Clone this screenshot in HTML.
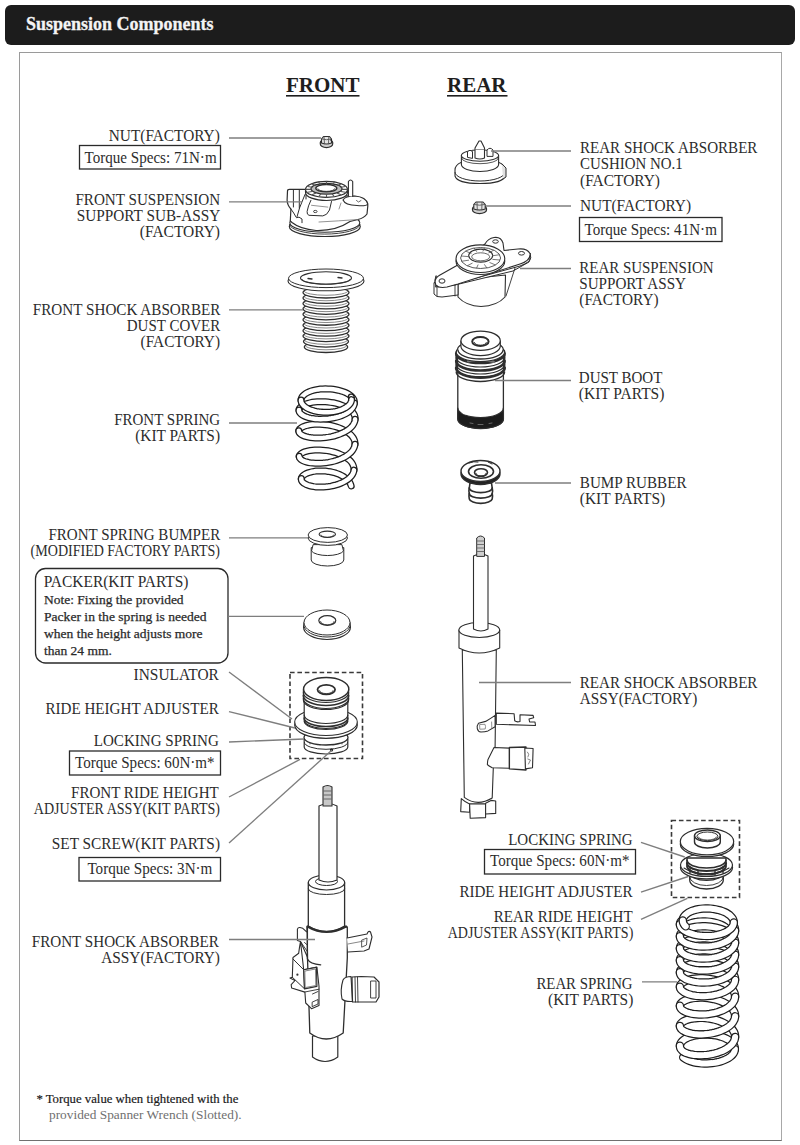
<!DOCTYPE html>
<html><head><meta charset="utf-8">
<style>
html,body{margin:0;padding:0;background:#fff;width:800px;height:1145px;overflow:hidden}
#hdr{position:absolute;left:5px;top:5px;width:790px;height:40px;background:#1c1c1c;border-radius:6px}
#hdr span{position:absolute;left:21px;top:8.3px;font:bold 18px/22px "Liberation Serif",serif;color:#f4f4f4;-webkit-text-stroke:0.3px #f4f4f4}
#frame{position:absolute;left:19px;top:52px;width:761px;height:1087px;border:1px solid #9a9a9a;border-bottom-color:#707070;border-right-color:#a8a8a8}
svg{position:absolute;left:0;top:0}
text{font-family:"Liberation Serif",serif;font-size:15px;fill:#2c2c2c}
.ld{stroke:#7e7e7e;stroke-width:1.35;fill:none}
.bx{fill:none;stroke:#2a2a2a;stroke-width:1.3}
</style></head><body>
<div id="hdr"><span>Suspension Components</span></div>
<div id="frame"></div>
<svg width="800" height="1145" viewBox="0 0 800 1145">
<text x="286" y="91.5" style="font-weight:bold;font-size:21px;fill:#1e1e1e">FRONT</text>
<text x="447" y="91.5" style="font-weight:bold;font-size:21px;fill:#1e1e1e">REAR</text>
<rect x="286" y="95" width="73.5" height="1.6" fill="#1e1e1e"/>
<rect x="447" y="95" width="60.5" height="1.6" fill="#1e1e1e"/>
<text x="219.8" y="141.4" text-anchor="end" textLength="111.0" lengthAdjust="spacingAndGlyphs" style="font-size:16px;">NUT(FACTORY)</text>
<text x="220.2" y="205.0" text-anchor="end" textLength="144.8" lengthAdjust="spacingAndGlyphs" style="font-size:16px;">FRONT SUSPENSION</text>
<text x="220.2" y="221.0" text-anchor="end" textLength="143.4" lengthAdjust="spacingAndGlyphs" style="font-size:16px;">SUPPORT SUB-ASSY</text>
<text x="220.0" y="237.0" text-anchor="end" textLength="80.2" lengthAdjust="spacingAndGlyphs" style="font-size:16px;">(FACTORY)</text>
<text x="220.4" y="314.8" text-anchor="end" textLength="187.6" lengthAdjust="spacingAndGlyphs" style="font-size:16px;">FRONT SHOCK ABSORBER</text>
<text x="220.2" y="330.6" text-anchor="end" textLength="93.4" lengthAdjust="spacingAndGlyphs" style="font-size:16px;">DUST COVER</text>
<text x="220.0" y="347.0" text-anchor="end" textLength="79.4" lengthAdjust="spacingAndGlyphs" style="font-size:16px;">(FACTORY)</text>
<text x="220.2" y="424.8" text-anchor="end" textLength="106.0" lengthAdjust="spacingAndGlyphs" style="font-size:16px;">FRONT SPRING</text>
<text x="220.0" y="441.2" text-anchor="end" textLength="84.8" lengthAdjust="spacingAndGlyphs" style="font-size:16px;">(KIT PARTS)</text>
<text x="220.2" y="539.8" text-anchor="end" textLength="171.8" lengthAdjust="spacingAndGlyphs" style="font-size:16px;">FRONT SPRING BUMPER</text>
<text x="220.0" y="555.8" text-anchor="end" textLength="189.4" lengthAdjust="spacingAndGlyphs" style="font-size:16px;">(MODIFIED FACTORY PARTS)</text>
<text x="218.8" y="679.8" text-anchor="end" textLength="85.2" lengthAdjust="spacingAndGlyphs" style="font-size:16px;">INSULATOR</text>
<text x="218.8" y="714.2" text-anchor="end" textLength="173.4" lengthAdjust="spacingAndGlyphs" style="font-size:16px;">RIDE HEIGHT ADJUSTER</text>
<text x="218.8" y="745.8" text-anchor="end" textLength="125.0" lengthAdjust="spacingAndGlyphs" style="font-size:16px;">LOCKING SPRING</text>
<text x="218.8" y="797.9" text-anchor="end" textLength="147.8" lengthAdjust="spacingAndGlyphs" style="font-size:16px;">FRONT RIDE HEIGHT</text>
<text x="220.0" y="814.4" text-anchor="end" textLength="186.2" lengthAdjust="spacingAndGlyphs" style="font-size:16px;">ADJUSTER ASSY(KIT PARTS)</text>
<text x="220.0" y="848.8" text-anchor="end" textLength="168.2" lengthAdjust="spacingAndGlyphs" style="font-size:16px;">SET SCREW(KIT PARTS)</text>
<text x="218.8" y="947.0" text-anchor="end" textLength="187.0" lengthAdjust="spacingAndGlyphs" style="font-size:16px;">FRONT SHOCK ABSORBER</text>
<text x="220.0" y="963.0" text-anchor="end" textLength="118.8" lengthAdjust="spacingAndGlyphs" style="font-size:16px;">ASSY(FACTORY)</text>
<text x="84.6" y="162.8" textLength="132.0" lengthAdjust="spacingAndGlyphs" style="font-size:16px;">Torque Specs: 71N·m</text>
<text x="75.0" y="767.8" textLength="139.6" lengthAdjust="spacingAndGlyphs" style="font-size:16px;">Torque Specs: 60N·m*</text>
<text x="87.4" y="874.0" textLength="125.0" lengthAdjust="spacingAndGlyphs" style="font-size:16px;">Torque Specs: 3N·m</text>
<text x="584.5" y="234.5" textLength="132.4" lengthAdjust="spacingAndGlyphs" style="font-size:16px;">Torque Specs: 41N·m</text>
<text x="490.0" y="866.3" textLength="139.6" lengthAdjust="spacingAndGlyphs" style="font-size:16px;">Torque Specs: 60N·m*</text>
<text x="43.7" y="586.7" textLength="144.8" lengthAdjust="spacingAndGlyphs" style="font-size:16px;">PACKER(KIT PARTS)</text>
<text x="44.0" y="603.8" textLength="139.6" lengthAdjust="spacingAndGlyphs" style="font-size:13.5px;stroke:#262626;stroke-width:0.25">Note: Fixing the provided</text>
<text x="44.0" y="621.0" textLength="162.6" lengthAdjust="spacingAndGlyphs" style="font-size:13.5px;stroke:#262626;stroke-width:0.25">Packer in the spring is needed</text>
<text x="44.0" y="638.2" textLength="158.6" lengthAdjust="spacingAndGlyphs" style="font-size:13.5px;stroke:#262626;stroke-width:0.25">when the height adjusts more</text>
<text x="44.0" y="655.2" textLength="67.8" lengthAdjust="spacingAndGlyphs" style="font-size:13.5px;stroke:#262626;stroke-width:0.25">than 24 mm.</text>
<text x="580.0" y="153.2" textLength="177.4" lengthAdjust="spacingAndGlyphs" style="font-size:16px;">REAR SHOCK ABSORBER</text>
<text x="580.0" y="169.3" textLength="102.6" lengthAdjust="spacingAndGlyphs" style="font-size:16px;">CUSHION NO.1</text>
<text x="580.0" y="185.5" textLength="80.0" lengthAdjust="spacingAndGlyphs" style="font-size:16px;">(FACTORY)</text>
<text x="580.0" y="211.0" textLength="111.0" lengthAdjust="spacingAndGlyphs" style="font-size:16px;">NUT(FACTORY)</text>
<text x="579.3" y="272.5" textLength="134.2" lengthAdjust="spacingAndGlyphs" style="font-size:16px;">REAR SUSPENSION</text>
<text x="579.3" y="288.5" textLength="106.7" lengthAdjust="spacingAndGlyphs" style="font-size:16px;">SUPPORT ASSY</text>
<text x="579.3" y="304.5" textLength="79.2" lengthAdjust="spacingAndGlyphs" style="font-size:16px;">(FACTORY)</text>
<text x="578.8" y="382.5" textLength="83.6" lengthAdjust="spacingAndGlyphs" style="font-size:16px;">DUST BOOT</text>
<text x="578.8" y="398.5" textLength="85.6" lengthAdjust="spacingAndGlyphs" style="font-size:16px;">(KIT PARTS)</text>
<text x="579.8" y="487.9" textLength="106.7" lengthAdjust="spacingAndGlyphs" style="font-size:16px;">BUMP RUBBER</text>
<text x="579.8" y="503.8" textLength="85.4" lengthAdjust="spacingAndGlyphs" style="font-size:16px;">(KIT PARTS)</text>
<text x="579.8" y="687.5" textLength="177.6" lengthAdjust="spacingAndGlyphs" style="font-size:16px;">REAR SHOCK ABSORBER</text>
<text x="579.8" y="703.5" textLength="117.6" lengthAdjust="spacingAndGlyphs" style="font-size:16px;">ASSY(FACTORY)</text>
<text x="632.6" y="844.8" text-anchor="end" textLength="124.4" lengthAdjust="spacingAndGlyphs" style="font-size:16px;">LOCKING SPRING</text>
<text x="632.6" y="896.5" text-anchor="end" textLength="173.2" lengthAdjust="spacingAndGlyphs" style="font-size:16px;">RIDE HEIGHT ADJUSTER</text>
<text x="632.6" y="921.8" text-anchor="end" textLength="138.8" lengthAdjust="spacingAndGlyphs" style="font-size:16px;">REAR RIDE HEIGHT</text>
<text x="633.3" y="937.8" text-anchor="end" textLength="185.6" lengthAdjust="spacingAndGlyphs" style="font-size:16px;">ADJUSTER ASSY(KIT PARTS)</text>
<text x="632.6" y="988.6" text-anchor="end" textLength="96.2" lengthAdjust="spacingAndGlyphs" style="font-size:16px;">REAR SPRING</text>
<text x="633.3" y="1005.0" text-anchor="end" textLength="85.2" lengthAdjust="spacingAndGlyphs" style="font-size:16px;">(KIT PARTS)</text>
<text x="36.4" y="1102.5" textLength="202.0" lengthAdjust="spacingAndGlyphs" style="font-size:13px;fill:#1a1a1a;stroke:#1a1a1a;stroke-width:0.2">* Torque value when tightened with the</text>
<text x="49.0" y="1119.0" textLength="192.6" lengthAdjust="spacingAndGlyphs" style="font-size:13px;fill:#707070">provided Spanner Wrench (Slotted).</text>

<rect class="bx" x="79.5" y="145.5" width="141" height="23.5"/>
<rect class="bx" x="69.5" y="751" width="151" height="24"/>
<rect class="bx" x="79" y="857.5" width="141.5" height="23.5"/>
<rect class="bx" x="579.5" y="217.5" width="142.5" height="24"/>
<rect class="bx" x="484.5" y="849.5" width="151" height="24.5"/>
<rect x="35.5" y="568.5" width="192.5" height="94.5" rx="10" ry="10" fill="none" stroke="#2a2a2a" stroke-width="1.3"/>

<g id="drawings">
<g id="fnut"><path d="M320.3,144 A6.2,3.6 0 0 0 332.7,144 L332.7,142.5 A6.2,3.2 0 0 0 320.3,142.5 Z" fill="#cfcfcf" stroke="#2e2e2e" stroke-width="1.2" stroke-linejoin="round" stroke-linecap="round" /><path d="M321.5,139 L323.5,136.5 L329.5,136.5 L331.5,139 L331.5,143 Q326.5,145 321.5,143 Z" fill="#e6e6e6" stroke="#2e2e2e" stroke-width="1.1" stroke-linejoin="round" stroke-linecap="round" /><path d="M324,137 L324.5,143.8 M328.8,137 L328.5,143.8 M321.5,139 Q326.5,140.5 331.5,139" fill="none" stroke="#555" stroke-width="0.9" stroke-linejoin="round" stroke-linecap="round" /><circle cx="331.2" cy="140" r="0.9" fill="#222"/></g>
<g id="fsup"><ellipse cx="324.8" cy="226.5" rx="35.5" ry="10" fill="#fff" stroke="#2e2e2e" stroke-width="1.2" /><path d="M289.6,224.5 A35.2,9.6 0 0 0 360.0,224.5" fill="none" stroke="#2e2e2e" stroke-width="0.9" stroke-linejoin="round" stroke-linecap="round" /><ellipse cx="324.8" cy="222.8" rx="35" ry="9.4" fill="#fff" stroke="#2e2e2e" stroke-width="1.1" /><path d="M287.5,191 Q287.5,189.3 289.5,189.3 L306,189.3 L347.5,190 L345,196 Q355,195.5 363,198.5 Q368,201.5 367.8,206 L367,214 Q364,218 358,219.5 L350,221.5 Q336,231 316,230.5 Q300,229 292,222.5 L290.3,221 L290.9,209 Q287.2,205 287.1,200 Z" fill="#fff" stroke="#2e2e2e" stroke-width="1.2" stroke-linejoin="round" stroke-linecap="round" /><path d="M343,200 Q345,196 355,196 Q366,197 367.8,204 Q366,206.5 357,205.5 Q345,205 343,200 Z" fill="#fff" stroke="#2e2e2e" stroke-width="1.1" stroke-linejoin="round" stroke-linecap="round" /><path d="M356.5,200.5 L358.5,202 L361,200.5" fill="none" stroke="#555" stroke-width="0.9" stroke-linejoin="round" stroke-linecap="round" /><path d="M310.9,200.3 Q308,206 307.1,211.5 Q306.8,214.8 309,215.3 L322.8,215.9 Q327,215.5 329.5,210 L331.5,201.5" fill="none" stroke="#2e2e2e" stroke-width="1" stroke-linejoin="round" stroke-linecap="round" /><path d="M311.5,205.3 L327.8,207.1" fill="none" stroke="#888" stroke-width="0.9" stroke-linejoin="round" stroke-linecap="round" /><ellipse cx="315.3" cy="211.5" rx="1.8" ry="1.1" fill="none" stroke="#444" stroke-width="1" /><path d="M293.4,190 L293.4,207 M299.3,190 L299.3,208 M305,194.5 L299.6,207.8 L297.1,216.5 M306,189.5 L306,199" fill="none" stroke="#2e2e2e" stroke-width="1" stroke-linejoin="round" stroke-linecap="round" /><path d="M290.9,209 Q294,213 296,217 M296.5,217.5 Q299,216 302,219 L302,222.7" fill="none" stroke="#2e2e2e" stroke-width="1" stroke-linejoin="round" stroke-linecap="round" /><path d="M319,222 Q338,221 358,219.5" fill="none" stroke="#777" stroke-width="0.8" stroke-linejoin="round" stroke-linecap="round" /><path d="M341,203 L339,209" fill="none" stroke="#777" stroke-width="0.8" stroke-linejoin="round" stroke-linecap="round" /><path d="M348.4,196 L348.4,181.5 Q350.5,178.5 352.7,181.5 L352.7,196.5" fill="#fff" stroke="#2e2e2e" stroke-width="1.1" stroke-linejoin="round" stroke-linecap="round" /><path d="M305.5,192.5 A21,8 0 0 0 347.5,192.5" fill="#fff" stroke="#2e2e2e" stroke-width="1.2" stroke-linejoin="round" stroke-linecap="round" /><path d="M305.5,189.4 L305.5,192.5 M347.5,189.4 L347.5,192.5" fill="none" stroke="#2e2e2e" stroke-width="1.1" stroke-linejoin="round" stroke-linecap="round" /><ellipse cx="326.5" cy="189.4" rx="21" ry="8" fill="#fff" stroke="#2e2e2e" stroke-width="1.2" /><ellipse cx="326.5" cy="188.7" rx="15.5" ry="5.4" fill="#bdbdbd" stroke="#2e2e2e" stroke-width="1.3" /><ellipse cx="326.3" cy="188.2" rx="10.5" ry="3.7" fill="#fff" stroke="#2e2e2e" stroke-width="1.4" /><path d="M317.8,188.8 A8.5,2.6 0 0 0 334.8,188.8" fill="none" stroke="#2e2e2e" stroke-width="0.9" stroke-linejoin="round" stroke-linecap="round" /><path d="M342.0,189.4 L347.0,189.4" fill="none" stroke="#555" stroke-width="1.1" stroke-linejoin="round" stroke-linecap="round" /><path d="M340.8,191.5 L345.4,192.3" fill="none" stroke="#555" stroke-width="1.1" stroke-linejoin="round" stroke-linecap="round" /><path d="M337.5,193.2 L341.0,194.8" fill="none" stroke="#555" stroke-width="1.1" stroke-linejoin="round" stroke-linecap="round" /><path d="M332.4,194.4 L334.3,196.5" fill="none" stroke="#555" stroke-width="1.1" stroke-linejoin="round" stroke-linecap="round" /><path d="M326.5,194.8 L326.5,197.1" fill="none" stroke="#555" stroke-width="1.1" stroke-linejoin="round" stroke-linecap="round" /><path d="M320.6,194.4 L318.7,196.5" fill="none" stroke="#555" stroke-width="1.1" stroke-linejoin="round" stroke-linecap="round" /><path d="M315.5,193.2 L312.0,194.8" fill="none" stroke="#555" stroke-width="1.1" stroke-linejoin="round" stroke-linecap="round" /><path d="M312.2,191.5 L307.6,192.3" fill="none" stroke="#555" stroke-width="1.1" stroke-linejoin="round" stroke-linecap="round" /><path d="M311.0,189.4 L306.0,189.4" fill="none" stroke="#555" stroke-width="1.1" stroke-linejoin="round" stroke-linecap="round" /><path d="M312.2,187.3 L307.6,186.5" fill="none" stroke="#555" stroke-width="1.1" stroke-linejoin="round" stroke-linecap="round" /><path d="M315.5,185.6 L312.0,184.0" fill="none" stroke="#555" stroke-width="1.1" stroke-linejoin="round" stroke-linecap="round" /><path d="M320.6,184.4 L318.7,182.3" fill="none" stroke="#555" stroke-width="1.1" stroke-linejoin="round" stroke-linecap="round" /><path d="M326.5,184.0 L326.5,181.7" fill="none" stroke="#555" stroke-width="1.1" stroke-linejoin="round" stroke-linecap="round" /><path d="M332.4,184.4 L334.3,182.3" fill="none" stroke="#555" stroke-width="1.1" stroke-linejoin="round" stroke-linecap="round" /><path d="M337.5,185.6 L341.0,184.0" fill="none" stroke="#555" stroke-width="1.1" stroke-linejoin="round" stroke-linecap="round" /><path d="M340.8,187.3 L345.4,186.5" fill="none" stroke="#555" stroke-width="1.1" stroke-linejoin="round" stroke-linecap="round" /></g>
<g id="dcov"><ellipse cx="326" cy="347.0" rx="21.7" ry="5.5" fill="#fff" stroke="#2e2e2e" stroke-width="1.3" /><path d="M305.3,345.6 A20.7,4.2 0 0 0 346.7,345.6" fill="none" stroke="#555" stroke-width="0.7" stroke-linejoin="round" stroke-linecap="round" /><ellipse cx="326" cy="341.55" rx="22.5" ry="5.5" fill="#fff" stroke="#2e2e2e" stroke-width="1.3" /><path d="M304.5,340.15000000000003 A21.5,4.2 0 0 0 347.5,340.15000000000003" fill="none" stroke="#555" stroke-width="0.7" stroke-linejoin="round" stroke-linecap="round" /><ellipse cx="326" cy="336.1" rx="23.0" ry="5.5" fill="#fff" stroke="#2e2e2e" stroke-width="1.3" /><path d="M304.0,334.70000000000005 A22.0,4.2 0 0 0 348.0,334.70000000000005" fill="none" stroke="#555" stroke-width="0.7" stroke-linejoin="round" stroke-linecap="round" /><ellipse cx="326" cy="330.65" rx="23.0" ry="5.5" fill="#fff" stroke="#2e2e2e" stroke-width="1.3" /><path d="M304.0,329.25 A22.0,4.2 0 0 0 348.0,329.25" fill="none" stroke="#555" stroke-width="0.7" stroke-linejoin="round" stroke-linecap="round" /><ellipse cx="326" cy="325.2" rx="23.0" ry="5.5" fill="#fff" stroke="#2e2e2e" stroke-width="1.3" /><path d="M304.0,323.8 A22.0,4.2 0 0 0 348.0,323.8" fill="none" stroke="#555" stroke-width="0.7" stroke-linejoin="round" stroke-linecap="round" /><ellipse cx="326" cy="319.75" rx="23.0" ry="5.5" fill="#fff" stroke="#2e2e2e" stroke-width="1.3" /><path d="M304.0,318.35 A22.0,4.2 0 0 0 348.0,318.35" fill="none" stroke="#555" stroke-width="0.7" stroke-linejoin="round" stroke-linecap="round" /><ellipse cx="326" cy="314.3" rx="23.0" ry="5.5" fill="#fff" stroke="#2e2e2e" stroke-width="1.3" /><path d="M304.0,312.90000000000003 A22.0,4.2 0 0 0 348.0,312.90000000000003" fill="none" stroke="#555" stroke-width="0.7" stroke-linejoin="round" stroke-linecap="round" /><ellipse cx="326" cy="308.85" rx="23.0" ry="5.5" fill="#fff" stroke="#2e2e2e" stroke-width="1.3" /><path d="M304.0,307.45000000000005 A22.0,4.2 0 0 0 348.0,307.45000000000005" fill="none" stroke="#555" stroke-width="0.7" stroke-linejoin="round" stroke-linecap="round" /><ellipse cx="326" cy="303.4" rx="23.0" ry="5.5" fill="#fff" stroke="#2e2e2e" stroke-width="1.3" /><path d="M304.0,302.0 A22.0,4.2 0 0 0 348.0,302.0" fill="none" stroke="#555" stroke-width="0.7" stroke-linejoin="round" stroke-linecap="round" /><ellipse cx="326" cy="297.95" rx="23.0" ry="5.5" fill="#fff" stroke="#2e2e2e" stroke-width="1.3" /><path d="M304.0,296.55 A22.0,4.2 0 0 0 348.0,296.55" fill="none" stroke="#555" stroke-width="0.7" stroke-linejoin="round" stroke-linecap="round" /><ellipse cx="326" cy="292.5" rx="23.0" ry="5.5" fill="#fff" stroke="#2e2e2e" stroke-width="1.3" /><path d="M304.0,291.1 A22.0,4.2 0 0 0 348.0,291.1" fill="none" stroke="#555" stroke-width="0.7" stroke-linejoin="round" stroke-linecap="round" /><ellipse cx="326" cy="281" rx="38" ry="9.8" fill="#fff" stroke="#2e2e2e" stroke-width="1.1" /><ellipse cx="326" cy="278.3" rx="37.5" ry="9.3" fill="#fff" stroke="#2e2e2e" stroke-width="1" /><ellipse cx="326" cy="278" rx="25.5" ry="6.2" fill="#fff" stroke="#2e2e2e" stroke-width="1.1" /><path d="M302,279.5 A24,4.6 0 0 0 350,279.5" fill="none" stroke="#333" stroke-width="0.8" stroke-linejoin="round" stroke-linecap="round" /><path d="M308,278.5 L312,279 M338,277.5 L342,278" fill="none" stroke="#2e2e2e" stroke-width="1.3" stroke-linejoin="round" stroke-linecap="round" /></g>
<g id="fspr"><path d="M301.3,478.6 L301.6,477.7 L302.1,476.8 L302.8,475.9 L303.8,475.0 L305.0,474.3 L306.4,473.5 L308.0,472.9 L309.8,472.3 L311.7,471.8 L313.8,471.4 L316.0,471.1 L318.3,470.9 L320.6,470.9 L323.1,470.9 L325.5,471.1 L328.0,471.4 L330.4,471.8 L332.8,472.3 L335.2,472.9 L337.4,473.7 L339.6,474.5 L341.6,475.5 L343.5,476.6 L345.2,477.7 L346.7,479.0 L348.0,480.3 L349.2,481.7 L350.1,483.1 L350.7,484.5 L351.2,486.0" fill="none" stroke="#1e1e1e" stroke-width="7.00" stroke-linecap="round"/>
<path d="M301.3,478.6 L301.6,477.7 L302.1,476.8 L302.8,475.9 L303.8,475.0 L305.0,474.3 L306.4,473.5 L308.0,472.9 L309.8,472.3 L311.7,471.8 L313.8,471.4 L316.0,471.1 L318.3,470.9 L320.6,470.9 L323.1,470.9 L325.5,471.1 L328.0,471.4 L330.4,471.8 L332.8,472.3 L335.2,472.9 L337.4,473.7 L339.6,474.5 L341.6,475.5 L343.5,476.6 L345.2,477.7 L346.7,479.0 L348.0,480.3 L349.2,481.7 L350.1,483.1 L350.7,484.5 L351.2,486.0" fill="none" stroke="#fff" stroke-width="4.50" stroke-linecap="round"/>
<path d="M299.2,456.3 L299.5,455.5 L300.0,454.7 L300.8,453.9 L301.8,453.2 L303.1,452.5 L304.5,451.9 L306.3,451.4 L308.2,450.9 L310.3,450.5 L312.5,450.2 L314.9,450.0 L317.4,450.0 L320.0,450.0 L322.7,450.2 L325.4,450.4 L328.1,450.8 L330.8,451.3 L333.4,452.0 L336.0,452.7 L338.5,453.6 L340.9,454.6 L343.1,455.6 L345.2,456.8 L347.0,458.1 L348.7,459.4 L350.2,460.8 L351.5,462.3 L352.5,463.9 L353.2,465.4 L353.7,467.0 L354.0,468.6 L354.0,470.1" fill="none" stroke="#1e1e1e" stroke-width="7.00" stroke-linecap="round"/>
<path d="M299.2,456.3 L299.5,455.5 L300.0,454.7 L300.8,453.9 L301.8,453.2 L303.1,452.5 L304.5,451.9 L306.3,451.4 L308.2,450.9 L310.3,450.5 L312.5,450.2 L314.9,450.0 L317.4,450.0 L320.0,450.0 L322.7,450.2 L325.4,450.4 L328.1,450.8 L330.8,451.3 L333.4,452.0 L336.0,452.7 L338.5,453.6 L340.9,454.6 L343.1,455.6 L345.2,456.8 L347.0,458.1 L348.7,459.4 L350.2,460.8 L351.5,462.3 L352.5,463.9 L353.2,465.4 L353.7,467.0 L354.0,468.6 L354.0,470.1" fill="none" stroke="#fff" stroke-width="4.50" stroke-linecap="round"/>
<path d="M298.8,430.8 L299.1,430.0 L299.6,429.1 L300.4,428.4 L301.4,427.6 L302.7,426.9 L304.2,426.3 L306.0,425.7 L307.9,425.2 L310.0,424.8 L312.3,424.5 L314.7,424.3 L317.3,424.2 L319.9,424.3 L322.6,424.4 L325.3,424.7 L328.1,425.0 L330.8,425.5 L333.6,426.2 L336.2,426.9 L338.7,427.7 L341.2,428.7 L343.5,429.8 L345.6,430.9 L347.6,432.2 L349.3,433.5 L350.9,434.9 L352.2,436.4 L353.3,437.9 L354.1,439.5 L354.7,441.0 L354.9,442.7 L355.0,444.3" fill="none" stroke="#1e1e1e" stroke-width="7.00" stroke-linecap="round"/>
<path d="M298.8,430.8 L299.1,430.0 L299.6,429.1 L300.4,428.4 L301.4,427.6 L302.7,426.9 L304.2,426.3 L306.0,425.7 L307.9,425.2 L310.0,424.8 L312.3,424.5 L314.7,424.3 L317.3,424.2 L319.9,424.3 L322.6,424.4 L325.3,424.7 L328.1,425.0 L330.8,425.5 L333.6,426.2 L336.2,426.9 L338.7,427.7 L341.2,428.7 L343.5,429.8 L345.6,430.9 L347.6,432.2 L349.3,433.5 L350.9,434.9 L352.2,436.4 L353.3,437.9 L354.1,439.5 L354.7,441.0 L354.9,442.7 L355.0,444.3" fill="none" stroke="#fff" stroke-width="4.50" stroke-linecap="round"/>
<path d="M299.0,410.0 L299.2,409.0 L299.7,408.1 L300.5,407.2 L301.5,406.3 L302.8,405.4 L304.3,404.7 L306.0,403.9 L307.9,403.3 L310.1,402.8 L312.3,402.3 L314.7,402.0 L317.3,401.8 L319.9,401.7 L322.6,401.7 L325.3,401.8 L328.1,402.0 L330.8,402.4 L333.6,402.8 L336.2,403.4 L338.8,404.1 L341.2,405.0 L343.5,405.9 L345.7,406.9 L347.6,408.0 L349.4,409.2 L351.0,410.5 L352.3,411.8 L353.4,413.2 L354.2,414.6 L354.8,416.0 L355.1,417.7 L355.1,419.3" fill="none" stroke="#1e1e1e" stroke-width="7.00" stroke-linecap="round"/>
<path d="M299.0,410.0 L299.2,409.0 L299.7,408.1 L300.5,407.2 L301.5,406.3 L302.8,405.4 L304.3,404.7 L306.0,403.9 L307.9,403.3 L310.1,402.8 L312.3,402.3 L314.7,402.0 L317.3,401.8 L319.9,401.7 L322.6,401.7 L325.3,401.8 L328.1,402.0 L330.8,402.4 L333.6,402.8 L336.2,403.4 L338.8,404.1 L341.2,405.0 L343.5,405.9 L345.7,406.9 L347.6,408.0 L349.4,409.2 L351.0,410.5 L352.3,411.8 L353.4,413.2 L354.2,414.6 L354.8,416.0 L355.1,417.7 L355.1,419.3" fill="none" stroke="#fff" stroke-width="4.50" stroke-linecap="round"/>
<path d="M301.0,400.1 L301.2,398.9 L301.6,397.8 L302.3,396.6 L303.2,395.5 L304.4,394.5 L305.8,393.5 L307.3,392.6 L309.1,391.8 L311.1,391.0 L313.2,390.4 L315.4,389.9 L317.8,389.4 L320.3,389.1 L322.8,388.9 L325.4,388.8 L328.0,388.9 L330.7,389.0 L333.3,389.3 L335.8,389.7 L338.2,390.2 L340.6,390.8 L342.8,391.5 L344.9,392.3 L346.9,393.2 L348.6,394.2 L350.1,395.3 L351.4,396.4 L352.5,397.6 L353.4,398.8 L354.0,400.0 L354.3,401.5 L354.4,403.0" fill="none" stroke="#1e1e1e" stroke-width="7.00" stroke-linecap="round"/>
<path d="M301.0,400.1 L301.2,398.9 L301.6,397.8 L302.3,396.6 L303.2,395.5 L304.4,394.5 L305.8,393.5 L307.3,392.6 L309.1,391.8 L311.1,391.0 L313.2,390.4 L315.4,389.9 L317.8,389.4 L320.3,389.1 L322.8,388.9 L325.4,388.8 L328.0,388.9 L330.7,389.0 L333.3,389.3 L335.8,389.7 L338.2,390.2 L340.6,390.8 L342.8,391.5 L344.9,392.3 L346.9,393.2 L348.6,394.2 L350.1,395.3 L351.4,396.4 L352.5,397.6 L353.4,398.8 L354.0,400.0 L354.3,401.5 L354.4,403.0" fill="none" stroke="#fff" stroke-width="4.50" stroke-linecap="round"/>
<path d="M351.2,397.0 L351.5,398.3 L351.6,399.6" fill="none" stroke="#1e1e1e" stroke-width="7.00" stroke-linecap="round"/>
<path d="M351.2,397.0 L351.5,398.3 L351.6,399.6" fill="none" stroke="#fff" stroke-width="4.50" stroke-linecap="round"/>
<path d="M354.0,470.1 L353.7,471.6 L353.2,473.1 L352.4,474.6 L351.4,476.0 L350.1,477.4 L348.6,478.7 L347.0,480.0 L345.1,481.1 L343.1,482.2 L340.9,483.2 L338.6,484.1 L336.2,484.9 L333.7,485.5 L331.1,486.1 L328.6,486.5 L326.0,486.8 L323.4,487.0 L320.9,487.1 L318.4,487.0 L316.0,486.9 L313.8,486.6 L311.7,486.2 L309.7,485.8 L307.9,485.2 L306.3,484.6 L304.9,483.8 L303.7,483.1 L302.7,482.2 L302.0,481.4 L301.5,480.5 L301.3,479.5 L301.3,478.6" fill="none" stroke="#1e1e1e" stroke-width="7.00" stroke-linecap="round"/>
<path d="M354.0,470.1 L353.7,471.6 L353.2,473.1 L352.4,474.6 L351.4,476.0 L350.1,477.4 L348.6,478.7 L347.0,480.0 L345.1,481.1 L343.1,482.2 L340.9,483.2 L338.6,484.1 L336.2,484.9 L333.7,485.5 L331.1,486.1 L328.6,486.5 L326.0,486.8 L323.4,487.0 L320.9,487.1 L318.4,487.0 L316.0,486.9 L313.8,486.6 L311.7,486.2 L309.7,485.8 L307.9,485.2 L306.3,484.6 L304.9,483.8 L303.7,483.1 L302.7,482.2 L302.0,481.4 L301.5,480.5 L301.3,479.5 L301.3,478.6" fill="none" stroke="#fff" stroke-width="4.50" stroke-linecap="round"/>
<path d="M355.0,444.3 L354.7,445.9 L354.2,447.5 L353.4,449.1 L352.4,450.7 L351.1,452.2 L349.6,453.6 L347.9,455.0 L346.0,456.2 L343.9,457.4 L341.6,458.5 L339.2,459.5 L336.7,460.4 L334.0,461.2 L331.4,461.8 L328.6,462.4 L325.9,462.8 L323.2,463.1 L320.5,463.3 L317.9,463.3 L315.3,463.3 L312.9,463.1 L310.6,462.9 L308.5,462.5 L306.6,462.0 L304.8,461.5 L303.3,460.9 L302.0,460.2 L300.9,459.5 L300.1,458.7 L299.5,458.0 L299.3,457.1 L299.2,456.3" fill="none" stroke="#1e1e1e" stroke-width="7.00" stroke-linecap="round"/>
<path d="M355.0,444.3 L354.7,445.9 L354.2,447.5 L353.4,449.1 L352.4,450.7 L351.1,452.2 L349.6,453.6 L347.9,455.0 L346.0,456.2 L343.9,457.4 L341.6,458.5 L339.2,459.5 L336.7,460.4 L334.0,461.2 L331.4,461.8 L328.6,462.4 L325.9,462.8 L323.2,463.1 L320.5,463.3 L317.9,463.3 L315.3,463.3 L312.9,463.1 L310.6,462.9 L308.5,462.5 L306.6,462.0 L304.8,461.5 L303.3,460.9 L302.0,460.2 L300.9,459.5 L300.1,458.7 L299.5,458.0 L299.3,457.1 L299.2,456.3" fill="none" stroke="#fff" stroke-width="4.50" stroke-linecap="round"/>
<path d="M355.1,419.3 L354.9,420.9 L354.4,422.5 L353.6,424.0 L352.6,425.6 L351.3,427.1 L349.8,428.5 L348.0,429.8 L346.1,431.1 L344.0,432.3 L341.7,433.3 L339.3,434.3 L336.7,435.2 L334.1,436.0 L331.4,436.6 L328.7,437.1 L325.9,437.5 L323.1,437.8 L320.4,438.0 L317.8,438.0 L315.2,437.9 L312.8,437.8 L310.4,437.5 L308.3,437.1 L306.3,436.6 L304.5,436.1 L303.0,435.5 L301.6,434.8 L300.5,434.0 L299.7,433.3 L299.1,432.5 L298.9,431.6 L298.8,430.8" fill="none" stroke="#1e1e1e" stroke-width="7.00" stroke-linecap="round"/>
<path d="M355.1,419.3 L354.9,420.9 L354.4,422.5 L353.6,424.0 L352.6,425.6 L351.3,427.1 L349.8,428.5 L348.0,429.8 L346.1,431.1 L344.0,432.3 L341.7,433.3 L339.3,434.3 L336.7,435.2 L334.1,436.0 L331.4,436.6 L328.7,437.1 L325.9,437.5 L323.1,437.8 L320.4,438.0 L317.8,438.0 L315.2,437.9 L312.8,437.8 L310.4,437.5 L308.3,437.1 L306.3,436.6 L304.5,436.1 L303.0,435.5 L301.6,434.8 L300.5,434.0 L299.7,433.3 L299.1,432.5 L298.9,431.6 L298.8,430.8" fill="none" stroke="#fff" stroke-width="4.50" stroke-linecap="round"/>
<path d="M354.4,403.0 L354.2,404.5 L353.7,405.9 L353.0,407.3 L352.0,408.7 L350.8,410.1 L349.4,411.3 L347.7,412.6 L345.8,413.7 L343.8,414.7 L341.5,415.7 L339.2,416.5 L336.7,417.2 L334.1,417.8 L331.4,418.3 L328.6,418.7 L325.9,419.0 L323.2,419.1 L320.5,419.2 L317.8,419.1 L315.3,418.9 L312.8,418.5 L310.5,418.1 L308.4,417.6 L306.4,417.0 L304.7,416.3 L303.1,415.5 L301.8,414.7 L300.7,413.8 L299.9,412.9 L299.3,412.0 L299.0,411.0 L299.0,410.0" fill="none" stroke="#1e1e1e" stroke-width="7.00" stroke-linecap="round"/>
<path d="M354.4,403.0 L354.2,404.5 L353.7,405.9 L353.0,407.3 L352.0,408.7 L350.8,410.1 L349.4,411.3 L347.7,412.6 L345.8,413.7 L343.8,414.7 L341.5,415.7 L339.2,416.5 L336.7,417.2 L334.1,417.8 L331.4,418.3 L328.6,418.7 L325.9,419.0 L323.2,419.1 L320.5,419.2 L317.8,419.1 L315.3,418.9 L312.8,418.5 L310.5,418.1 L308.4,417.6 L306.4,417.0 L304.7,416.3 L303.1,415.5 L301.8,414.7 L300.7,413.8 L299.9,412.9 L299.3,412.0 L299.0,411.0 L299.0,410.0" fill="none" stroke="#fff" stroke-width="4.50" stroke-linecap="round"/>
<path d="M351.6,399.6 L351.4,400.9 L351.0,402.1 L350.4,403.3 L349.5,404.5 L348.4,405.6 L347.1,406.7 L345.6,407.7 L343.9,408.6 L342.1,409.5 L340.1,410.2 L337.9,410.9 L335.7,411.4 L333.4,411.8 L330.9,412.1 L328.5,412.3 L326.0,412.3 L323.5,412.3 L321.1,412.1 L318.7,411.8 L316.3,411.4 L314.1,410.9 L312.0,410.2 L310.0,409.5 L308.2,408.7 L306.5,407.8 L305.1,406.8 L303.8,405.8 L302.8,404.7 L302.0,403.6 L301.4,402.5 L301.1,401.3 L301.0,400.1" fill="none" stroke="#1e1e1e" stroke-width="7.00" stroke-linecap="round"/>
<path d="M351.6,399.6 L351.4,400.9 L351.0,402.1 L350.4,403.3 L349.5,404.5 L348.4,405.6 L347.1,406.7 L345.6,407.7 L343.9,408.6 L342.1,409.5 L340.1,410.2 L337.9,410.9 L335.7,411.4 L333.4,411.8 L330.9,412.1 L328.5,412.3 L326.0,412.3 L323.5,412.3 L321.1,412.1 L318.7,411.8 L316.3,411.4 L314.1,410.9 L312.0,410.2 L310.0,409.5 L308.2,408.7 L306.5,407.8 L305.1,406.8 L303.8,405.8 L302.8,404.7 L302.0,403.6 L301.4,402.5 L301.1,401.3 L301.0,400.1" fill="none" stroke="#fff" stroke-width="4.50" stroke-linecap="round"/></g>
<g id="fbump"><path d="M311.2,548 L311.2,560 A16.3,6 0 0 0 343.8,560 L343.8,548 Z" fill="#fff" stroke="#2e2e2e" stroke-width="1" stroke-linejoin="round" stroke-linecap="round" /><path d="M313,545 L311.5,551 A16.5,6 0 0 0 343.5,551 L342,545 Z" fill="#fff" stroke="#2e2e2e" stroke-width="1" stroke-linejoin="round" stroke-linecap="round" /><ellipse cx="327.8" cy="538" rx="19.7" ry="7.4" fill="#fff" stroke="#2e2e2e" stroke-width="1" /><ellipse cx="327.8" cy="535" rx="19.7" ry="7.4" fill="#fff" stroke="#2e2e2e" stroke-width="1" /><ellipse cx="327.3" cy="534.3" rx="8.2" ry="3.2" fill="#fff" stroke="#2e2e2e" stroke-width="1.1" /><path d="M320.8,535 A6.5,2.2 0 0 0 333.8,535" fill="none" stroke="#2e2e2e" stroke-width="0.8" stroke-linejoin="round" stroke-linecap="round" /></g>
<g id="packer"><ellipse cx="327" cy="627" rx="23.5" ry="12.5" fill="#fff" stroke="#2e2e2e" stroke-width="1.1" /><ellipse cx="327" cy="624.5" rx="23.3" ry="12.5" fill="#fff" stroke="#2e2e2e" stroke-width="1" /><ellipse cx="327" cy="622.5" rx="23" ry="12.5" fill="#fff" stroke="#2e2e2e" stroke-width="1" /><ellipse cx="327.3" cy="620.5" rx="8.5" ry="4.8" fill="#fff" stroke="#2e2e2e" stroke-width="1.2" /><path d="M320.5,621.5 A6.8,3.3 0 0 0 334.1,621.5" fill="none" stroke="#2e2e2e" stroke-width="0.8" stroke-linejoin="round" stroke-linecap="round" /></g>
<g id="fadj"><path d="M304.2,739 L304.2,747 A21.8,7 0 0 0 347.8,747 L347.8,739 Z" fill="#fff" stroke="#2e2e2e" stroke-width="1.2" stroke-linejoin="round" stroke-linecap="round" /><path d="M304.4,742.5 A21.6,6.8 0 0 0 347.6,742.5" fill="none" stroke="#2e2e2e" stroke-width="1" stroke-linejoin="round" stroke-linecap="round" /><path d="M310,738 L310,744 M320,739 L320,745 M333,739 L333,745 M342,738 L342,744" fill="none" stroke="#444" stroke-width="0.8" stroke-linejoin="round" stroke-linecap="round" /><ellipse cx="326" cy="737.5" rx="22" ry="7.5" fill="#fff" stroke="#2e2e2e" stroke-width="1.3" /><ellipse cx="326" cy="725" rx="31.3" ry="13.3" fill="#fff" stroke="#2e2e2e" stroke-width="1.2" /><ellipse cx="326" cy="722" rx="31.3" ry="13.5" fill="#fff" stroke="#2e2e2e" stroke-width="1.1" /><path d="M304.2,700 L304.2,720 A21.8,8.5 0 0 0 347.8,720 L347.8,700 Z" fill="#fff" stroke="#2e2e2e" stroke-width="1.2" stroke-linejoin="round" stroke-linecap="round" /><path d="M304.2,715 A21.8,8.5 0 0 0 347.8,715" fill="none" stroke="#2e2e2e" stroke-width="1.2" stroke-linejoin="round" stroke-linecap="round" /><path d="M304.2,718 A21.8,8.5 0 0 0 347.8,718" fill="none" stroke="#2e2e2e" stroke-width="1.6" stroke-linejoin="round" stroke-linecap="round" /><path d="M304.2,721 A21.8,8.5 0 0 0 347.8,721" fill="none" stroke="#2e2e2e" stroke-width="1.2" stroke-linejoin="round" stroke-linecap="round" /><path d="M303.4,689 L303.4,700 A22.6,9.5 0 0 0 348.6,700 L348.6,689 Z" fill="#fff" stroke="#2e2e2e" stroke-width="1.2" stroke-linejoin="round" stroke-linecap="round" /><path d="M303.4,692.5 A22.6,10 0 0 0 348.6,692.5" fill="none" stroke="#2e2e2e" stroke-width="1.2" stroke-linejoin="round" stroke-linecap="round" /><path d="M303.4,695.5 A22.6,10 0 0 0 348.6,695.5" fill="none" stroke="#2e2e2e" stroke-width="1.6" stroke-linejoin="round" stroke-linecap="round" /><path d="M303.4,698.5 A22.6,10 0 0 0 348.6,698.5" fill="none" stroke="#2e2e2e" stroke-width="1.2" stroke-linejoin="round" stroke-linecap="round" /><ellipse cx="326.2" cy="689" rx="22.6" ry="11.5" fill="#fff" stroke="#2e2e2e" stroke-width="1.4" /><ellipse cx="326.3" cy="689.6" rx="8.8" ry="4.8" fill="#fff" stroke="#2e2e2e" stroke-width="1.8" /><path d="M319.5,690.6 A6.8,3 0 0 0 333.1,690.6" fill="none" stroke="#2e2e2e" stroke-width="0.8" stroke-linejoin="round" stroke-linecap="round" /><circle cx="331.5" cy="750" r="1.6" fill="#111"/><rect x="290" y="672.5" width="72.5" height="86" fill="none" stroke="#3a3a3a" stroke-width="1.6" stroke-dasharray="4.6 2.8"/></g>
<g id="fshock"><path d="M312.5,1036 L312.5,1057 Q325,1066 337.8,1057 L337.8,1036 Z" fill="#fff" stroke="#2e2e2e" stroke-width="1.2" stroke-linejoin="round" stroke-linecap="round" /><path d="M307,927 L307.5,958 L309.8,1033 Q326,1045 343.2,1033 L347.3,958 L347.3,927 Z" fill="#fff" stroke="#2e2e2e" stroke-width="1.3" stroke-linejoin="round" stroke-linecap="round" /><path d="M347,938 L367,934 Q368.5,930 370.5,932 L372,937 L369,949 L364,951 L348,952" fill="#fff" stroke="#2e2e2e" stroke-width="1.1" stroke-linejoin="round" stroke-linecap="round" /><path d="M362,940 L367,938 L366.5,945 L362,947 Z" fill="none" stroke="#2e2e2e" stroke-width="0.8" stroke-linejoin="round" stroke-linecap="round" /><path d="M348,944 L364,941" fill="none" stroke="#555" stroke-width="0.7" stroke-linejoin="round" stroke-linecap="round" /><path d="M343,980 Q345,976.5 351,976.5 L352.5,1001.5 Q345,1002 342,999 Q340,990 343,980 Z" fill="#fff" stroke="#2e2e2e" stroke-width="1.1" stroke-linejoin="round" stroke-linecap="round" /><path d="M352,977 L361,976.5 L374,977 L379,982 L379,997 L376,1002 L352.5,1002 Z" fill="#fff" stroke="#2e2e2e" stroke-width="1.2" stroke-linejoin="round" stroke-linecap="round" /><path d="M355,977 L355.5,1002 M357.5,977 L358,1002 M371,981 L376,981 L376,998 L371,998 Z" fill="none" stroke="#2e2e2e" stroke-width="0.9" stroke-linejoin="round" stroke-linecap="round" /><path d="M297.4,940.5 L297.4,929.1 Q298,927.3 299.9,927.5 L302.8,928.3 L307.2,932.4 L307.4,957 L300.5,941.5 Z" fill="#fff" stroke="#2e2e2e" stroke-width="1.1" stroke-linejoin="round" stroke-linecap="round" /><path d="M300.5,941.5 L307.3,951.5 M304.5,942.5 L307.3,945" fill="none" stroke="#2e2e2e" stroke-width="0.9" stroke-linejoin="round" stroke-linecap="round" /><path d="M300.5,941.5 L299.5,947.4 L298.7,953.2 L293,957.5 L292.3,977.2 L290,978 L295,980.5 L291.2,984.7 L291.6,988 L304.9,992.1 L305.7,1003 L311.5,1008.7 L319,1005.4 L319,986.3 L316.9,967 L303.7,969.75 Z" fill="#fff" stroke="#2e2e2e" stroke-width="1.1" stroke-linejoin="round" stroke-linecap="round" /><path d="M293,959 L303.7,969.75 L304.5,988.8 L292.3,977.2" fill="none" stroke="#2e2e2e" stroke-width="1" stroke-linejoin="round" stroke-linecap="round" /><path d="M303.7,969.75 L316.5,967.3 L316.9,986.3 L304.5,988.8 Z" fill="#fff" stroke="#2e2e2e" stroke-width="1.2" stroke-linejoin="round" stroke-linecap="round" /><path d="M305.2,971 L315.5,969 L315.8,985.5 L305.6,987.5 Z" fill="none" stroke="#666" stroke-width="0.8" stroke-linejoin="round" stroke-linecap="round" /><path d="M304.9,992 L319,989.2 M312.5,994 L318,991.5 M312.5,1002 L318,999.5 L318,1004 L312.5,1006.5 Z" fill="none" stroke="#2e2e2e" stroke-width="0.9" stroke-linejoin="round" stroke-linecap="round" /><circle cx="297.4" cy="974.7" r="1.1" fill="#333"/><path d="M307.4,927 L307.4,959 Q310,964 320.7,964.8" fill="none" stroke="#2e2e2e" stroke-width="1.3" stroke-linejoin="round" stroke-linecap="round" /><path d="M308.3,883 L308.3,926 Q326.5,937 344.6,926 L344.6,883 Z" fill="#fff" stroke="#2e2e2e" stroke-width="1.3" stroke-linejoin="round" stroke-linecap="round" /><path d="M307.5,926.5 Q326.5,937.5 346,926.5" fill="none" stroke="#2e2e2e" stroke-width="2.2" stroke-linejoin="round" stroke-linecap="round" /><path d="M308.3,889 A18.2,5.5 0 0 0 344.7,889" fill="none" stroke="#2e2e2e" stroke-width="1" stroke-linejoin="round" stroke-linecap="round" /><ellipse cx="326.5" cy="882.5" rx="18.2" ry="7.5" fill="#fff" stroke="#2e2e2e" stroke-width="1.2" /><ellipse cx="326.5" cy="881.5" rx="11" ry="4" fill="#fff" stroke="#2e2e2e" stroke-width="1" /><path d="M319,806 L319,880 Q328,884 337,880 L337,806 Q328,801 319,806 Z" fill="#fff" stroke="#2e2e2e" stroke-width="1.2" stroke-linejoin="round" stroke-linecap="round" /><path d="M323,806 L323,787 Q327.5,784 332,787 L332,806 Z" fill="#c8c8c8" stroke="#2e2e2e" stroke-width="1.1" stroke-linejoin="round" stroke-linecap="round" /><path d="M323.5,791 L331.5,791 M323.5,795 L331.5,795 M323.5,799 L331.5,799" fill="none" stroke="#666" stroke-width="1" stroke-linejoin="round" stroke-linecap="round" /></g>
<g id="rcush"><path d="M455,170 Q455,160 480,159.5 Q505,160 505,170 L505,176 Q503,183.5 480,183.5 Q457,183.5 455,176 Z" fill="#fff" stroke="#2e2e2e" stroke-width="1.1" stroke-linejoin="round" stroke-linecap="round" /><path d="M455,172.5 A25,8.5 0 0 0 505,172.5" fill="none" stroke="#2e2e2e" stroke-width="1" stroke-linejoin="round" stroke-linecap="round" /><path d="M502,164 L506,168 L506,177 L503,179" fill="#e0e0e0" stroke="#2e2e2e" stroke-width="1" stroke-linejoin="round" stroke-linecap="round" /><path d="M461.4,155.5 L461.4,164.5 A18.6,7 0 0 0 498.6,164.5 L498.6,155.5 Z" fill="#fff" stroke="#2e2e2e" stroke-width="1.1" stroke-linejoin="round" stroke-linecap="round" /><ellipse cx="480" cy="155.5" rx="18.6" ry="5.7" fill="#fff" stroke="#2e2e2e" stroke-width="1.1" /><path d="M461.8,158.5 A18.2,5.2 0 0 0 498.2,158.5" fill="none" stroke="#2e2e2e" stroke-width="0.8" stroke-linejoin="round" stroke-linecap="round" /><path d="M467.5,157 L467.5,151.5 Q470,149 472.5,151.5 L472.5,158 Z" fill="#fff" stroke="#2e2e2e" stroke-width="1" stroke-linejoin="round" stroke-linecap="round" /><path d="M487,156 L487,150 Q490,146.5 493,150 L493,156 Z" fill="#fff" stroke="#2e2e2e" stroke-width="1" stroke-linejoin="round" stroke-linecap="round" /><path d="M475,158 L475,148 L479,141 L481,141 L484.5,148 L484.5,158 Q480,160 475,158 Z" fill="#fff" stroke="#2e2e2e" stroke-width="1.1" stroke-linejoin="round" stroke-linecap="round" /><path d="M475.5,149.5 L484,149.5" fill="none" stroke="#666" stroke-width="0.7" stroke-linejoin="round" stroke-linecap="round" /></g>
<g id="rnut"><path d="M472.5,210 A7,3.6 0 0 0 486.5,210 L486.5,208.5 A7,3.2 0 0 0 472.5,208.5 Z" fill="#cfcfcf" stroke="#2e2e2e" stroke-width="1.2" stroke-linejoin="round" stroke-linecap="round" /><path d="M473.8,204.5 L476,202 L483,202 L485.2,204.5 L485.2,209 Q479.5,211 473.8,209 Z" fill="#e6e6e6" stroke="#2e2e2e" stroke-width="1.1" stroke-linejoin="round" stroke-linecap="round" /><path d="M477,202.5 L477.3,209.8 M482,202.5 L481.8,209.8 M473.8,204.5 Q479.5,206 485.2,204.5" fill="none" stroke="#555" stroke-width="0.9" stroke-linejoin="round" stroke-linecap="round" /></g>
<g id="rsup"><path d="M458,280 L458,297 Q466,306 481,306.5 Q497,306 505,297 L505.5,275 Z" fill="#fff" stroke="#2e2e2e" stroke-width="1.1" stroke-linejoin="round" stroke-linecap="round" /><path d="M434,283 L434,294 Q436,297.5 442,297 L458,295 L458,283 Z" fill="#fff" stroke="#2e2e2e" stroke-width="1" stroke-linejoin="round" stroke-linecap="round" /><path d="M436,276 Q433,284 438,287 L455,285 L513,271 L529,262 Q532,258 530,253 L530,259 Q530,262 520,266 L458,283 L436,287 Z" fill="#fff" stroke="#2e2e2e" stroke-width="1" stroke-linejoin="round" stroke-linecap="round" /><path d="M456,266 L440,275 Q433,279 436,285 Q439,288.5 447,287 L458,284 L520,264 Q531,260.5 530,253.5 Q527,248 518,249 L504,250.5 L503,243 Q501,236.5 494,237.5 Q488,238.5 485,244 Z" fill="#fff" stroke="#2e2e2e" stroke-width="1.1" stroke-linejoin="round" stroke-linecap="round" /><path d="M437,286 L437,296 M455,285 L455,296 M515,268 L506,296" fill="none" stroke="#2e2e2e" stroke-width="0.9" stroke-linejoin="round" stroke-linecap="round" /><ellipse cx="442" cy="281" rx="3" ry="2.2" fill="#fff" stroke="#2e2e2e" stroke-width="1" /><ellipse cx="495.5" cy="241.5" rx="2.8" ry="1.7" fill="#fff" stroke="#2e2e2e" stroke-width="1" /><ellipse cx="521.5" cy="253.3" rx="3" ry="1.8" fill="#fff" stroke="#2e2e2e" stroke-width="1" /><ellipse cx="480.4" cy="261" rx="24.4" ry="13.5" fill="#fff" stroke="#2e2e2e" stroke-width="1.1" /><ellipse cx="480.4" cy="258.7" rx="24.4" ry="13.8" fill="#fff" stroke="#2e2e2e" stroke-width="1.1" /><ellipse cx="480.6" cy="258" rx="20" ry="10.5" fill="none" stroke="#444" stroke-width="0.9" /><ellipse cx="480.7" cy="255.6" rx="12" ry="6.5" fill="#fff" stroke="#2e2e2e" stroke-width="1.1" /><ellipse cx="480.7" cy="256.8" rx="9" ry="4" fill="none" stroke="#444" stroke-width="0.8" /><path d="M492.8,259.4 L499.6,260.0" fill="none" stroke="#555" stroke-width="0.8" stroke-linejoin="round" stroke-linecap="round" /><path d="M489.9,262.6 L495.1,264.8" fill="none" stroke="#555" stroke-width="0.8" stroke-linejoin="round" stroke-linecap="round" /><path d="M484.5,264.6 L486.7,267.7" fill="none" stroke="#555" stroke-width="0.8" stroke-linejoin="round" stroke-linecap="round" /><path d="M478.0,264.9 L476.6,268.0" fill="none" stroke="#555" stroke-width="0.8" stroke-linejoin="round" stroke-linecap="round" /><path d="M472.2,263.2 L467.6,265.6" fill="none" stroke="#555" stroke-width="0.8" stroke-linejoin="round" stroke-linecap="round" /><path d="M468.6,260.2 L462.0,261.2" fill="none" stroke="#555" stroke-width="0.8" stroke-linejoin="round" stroke-linecap="round" /><path d="M468.2,256.6 L461.4,256.0" fill="none" stroke="#555" stroke-width="0.8" stroke-linejoin="round" stroke-linecap="round" /><path d="M471.1,253.4 L465.9,251.2" fill="none" stroke="#555" stroke-width="0.8" stroke-linejoin="round" stroke-linecap="round" /><path d="M476.5,251.4 L474.3,248.3" fill="none" stroke="#555" stroke-width="0.8" stroke-linejoin="round" stroke-linecap="round" /><path d="M483.0,251.1 L484.4,248.0" fill="none" stroke="#555" stroke-width="0.8" stroke-linejoin="round" stroke-linecap="round" /><path d="M488.8,252.8 L493.4,250.4" fill="none" stroke="#555" stroke-width="0.8" stroke-linejoin="round" stroke-linecap="round" /><path d="M492.4,255.8 L499.0,254.8" fill="none" stroke="#555" stroke-width="0.8" stroke-linejoin="round" stroke-linecap="round" /></g>
<g id="dboot"><path d="M457.8,372 L457.8,419 A22.8,9.5 0 0 0 503.4,419 L503.4,372 Z" fill="#fff" stroke="#2e2e2e" stroke-width="1.3" stroke-linejoin="round" stroke-linecap="round" /><path d="M457.8,408 A22.8,9.5 0 0 0 503.4,408 L503.4,419 A22.8,9.5 0 0 1 457.8,419 Z" fill="#1c1c1c" stroke="#2e2e2e" stroke-width="1.2" stroke-linejoin="round" stroke-linecap="round" /><path d="M460.5,410 Q464,409 468,413 Q466,416 462,413 Z" fill="#fff" stroke="none" stroke-width="1" stroke-linejoin="round" stroke-linecap="round" /><path d="M470,423 L473,423.5 M478,424.5 L483,424.5 M489,423.5 L492,423" fill="none" stroke="#888" stroke-width="0.7" stroke-linejoin="round" stroke-linecap="round" /><path d="M456.2,352 L456.2,368 A24.2,9.5 0 0 0 504.6,368 L504.6,352 Z" fill="#fff" stroke="#2e2e2e" stroke-width="1.3" stroke-linejoin="round" stroke-linecap="round" /><path d="M456.2,353.5 A24.2,9.5 0 0 0 504.59999999999997,353.5" fill="none" stroke="#2e2e2e" stroke-width="2.6" stroke-linejoin="round" stroke-linecap="round" /><path d="M456.2,357.5 A24.2,9.5 0 0 0 504.59999999999997,357.5" fill="none" stroke="#2e2e2e" stroke-width="1.2" stroke-linejoin="round" stroke-linecap="round" /><path d="M456.2,361 A24.2,9.5 0 0 0 504.59999999999997,361" fill="none" stroke="#2e2e2e" stroke-width="2.6" stroke-linejoin="round" stroke-linecap="round" /><path d="M456.2,364.5 A24.2,9.5 0 0 0 504.59999999999997,364.5" fill="none" stroke="#2e2e2e" stroke-width="1.2" stroke-linejoin="round" stroke-linecap="round" /><path d="M456.2,368 A24.2,9.5 0 0 0 504.59999999999997,368" fill="none" stroke="#2e2e2e" stroke-width="2.8" stroke-linejoin="round" stroke-linecap="round" /><path d="M456.2,372 A24.2,9.5 0 0 0 504.59999999999997,372" fill="none" stroke="#2e2e2e" stroke-width="1.4" stroke-linejoin="round" stroke-linecap="round" /><path d="M457,351 L457,369 M504,351 L504,369" fill="none" stroke="#2e2e2e" stroke-width="2.4" stroke-linejoin="round" stroke-linecap="round" /><path d="M468,361.5 Q480,358.5 494,362" fill="none" stroke="#777" stroke-width="2" stroke-linejoin="round" stroke-linecap="round" /><path d="M457.5,349 A23,9 0 0 1 503.3,349 L504.6,352 A24.2,9.5 0 0 1 456.2,352 Z" fill="#fff" stroke="#2e2e2e" stroke-width="1.2" stroke-linejoin="round" stroke-linecap="round" /><path d="M458.0,350 A22.5,9 0 0 0 503.0,350" fill="none" stroke="#2e2e2e" stroke-width="1.3" stroke-linejoin="round" stroke-linecap="round" /><path d="M460.9,341 L460.9,346 A19.6,9.5 0 0 0 500.3,346 L500.3,341" fill="#fff" stroke="#2e2e2e" stroke-width="1.2" stroke-linejoin="round" stroke-linecap="round" /><ellipse cx="480.6" cy="340.7" rx="19.65" ry="9.6" fill="#fff" stroke="#2e2e2e" stroke-width="1.2" /><ellipse cx="480.4" cy="341.5" rx="8.2" ry="4.6" fill="#fff" stroke="#2e2e2e" stroke-width="2" /><path d="M474.4,342.6 A6,2.6 0 0 0 486.4,342.6" fill="none" stroke="#2e2e2e" stroke-width="1" stroke-linejoin="round" stroke-linecap="round" /></g>
<g id="brub"><path d="M470,483 L469.3,488 Q468.5,491 469.3,493.5 Q468.5,496.5 469.3,499 A11.5,4.8 0 0 0 492.2,499 Q493,496.5 492.2,493.5 Q493,491 492.2,488 L491.5,483 Z" fill="#fff" stroke="#2e2e2e" stroke-width="1.6" stroke-linejoin="round" stroke-linecap="round" /><path d="M469.25,488 A11.5,4.6 0 0 0 492.25,488" fill="none" stroke="#2e2e2e" stroke-width="1.7" stroke-linejoin="round" stroke-linecap="round" /><path d="M469.25,493.5 A11.5,4.6 0 0 0 492.25,493.5" fill="none" stroke="#2e2e2e" stroke-width="1.7" stroke-linejoin="round" stroke-linecap="round" /><ellipse cx="480.5" cy="474" rx="19.5" ry="10.5" fill="#222" stroke="#2e2e2e" stroke-width="1.4" /><ellipse cx="480.5" cy="471" rx="19.5" ry="10.5" fill="#fff" stroke="#2e2e2e" stroke-width="1.4" /><ellipse cx="481" cy="471.5" rx="12.5" ry="6.8" fill="#fff" stroke="#2e2e2e" stroke-width="1.6" /><ellipse cx="481" cy="472.5" rx="6.5" ry="3.8" fill="#fff" stroke="#2e2e2e" stroke-width="1.6" /><path d="M476,473.3 A5,2.5 0 0 0 486,473.3" fill="none" stroke="#2e2e2e" stroke-width="0.8" stroke-linejoin="round" stroke-linecap="round" /><path d="M469,463 Q474,461 478,462 M488,462 L492,464" fill="none" stroke="#2e2e2e" stroke-width="1" stroke-linejoin="round" stroke-linecap="round" /></g>
<g id="rshock"><path d="M462.3,650 L464.3,797.4 Q477.3,807 492.2,798 L493.3,768 L495.1,746.9 L496.3,650 Z" fill="#fff" stroke="#2e2e2e" stroke-width="1.1" stroke-linejoin="round" stroke-linecap="round" /><path d="M461.3,798.6 L460.7,811.6 L469.6,812.2 L469.6,803.9 Q465,802 461.3,798.6 Z" fill="#fff" stroke="#2e2e2e" stroke-width="1.1" stroke-linejoin="round" stroke-linecap="round" /><path d="M469.6,803.9 L485.6,803.9 L485.6,817.6 L470.2,818.2 Z" fill="#fff" stroke="#2e2e2e" stroke-width="1.1" stroke-linejoin="round" stroke-linecap="round" /><path d="M485.6,803.3 L491,800.4 L495.7,801 L495.7,813.4 L485.6,814 Z" fill="#fff" stroke="#2e2e2e" stroke-width="1.1" stroke-linejoin="round" stroke-linecap="round" /><path d="M496.3,713.1 L514.1,713.7 L514.7,720.8 Q517,722.5 520,721.4 L520,714.8 L533.1,715.4 L533.7,717.8 L529,719 L529.6,722 L535,722 L535.5,725.5 L496.3,724.3 Z" fill="#fff" stroke="#2e2e2e" stroke-width="1.1" stroke-linejoin="round" stroke-linecap="round" /><path d="M495.1,715.4 Q490,719 485.6,721.4 L478.5,723.2 Q476.5,726 477.3,728.5 Q478,731.5 480.9,732 Q485,732 488,730.9 L495.1,726.7 Z" fill="#fff" stroke="#2e2e2e" stroke-width="1.1" stroke-linejoin="round" stroke-linecap="round" /><path d="M480,724.5 L485,724.3 Q486,726.5 485.2,729 L480.2,729.2 Z" fill="none" stroke="#777" stroke-width="0.8" stroke-linejoin="round" stroke-linecap="round" /><path d="M491.6,722 L491.8,728" fill="none" stroke="#777" stroke-width="0.8" stroke-linejoin="round" stroke-linecap="round" /><path d="M494,747.5 L509.4,748.1 L509.4,768.3 L492.2,767.7 Q488.5,766 487.4,764.7 Q487.5,761 488,759.4 Z" fill="#fff" stroke="#2e2e2e" stroke-width="1.1" stroke-linejoin="round" stroke-linecap="round" /><path d="M509.4,747.5 L526,747 L526,770 L509.4,768.9 Z" fill="#fff" stroke="#2e2e2e" stroke-width="1.3" stroke-linejoin="round" stroke-linecap="round" /><path d="M524.8,748 L533.1,748.5 L532.5,767.7 L525.4,768.9 Z" fill="#fff" stroke="#2e2e2e" stroke-width="1.1" stroke-linejoin="round" stroke-linecap="round" /><path d="M527.5,752 Q530,754 528,757 M527.8,759 L530.5,760 L528.5,764" fill="none" stroke="#666" stroke-width="0.8" stroke-linejoin="round" stroke-linecap="round" /><path d="M459,630 L459,648 Q479,658 499.7,648 L499.7,630 Z" fill="#fff" stroke="#2e2e2e" stroke-width="1.1" stroke-linejoin="round" stroke-linecap="round" /><ellipse cx="479.3" cy="630" rx="20.4" ry="7.5" fill="#fff" stroke="#2e2e2e" stroke-width="1.1" /><path d="M473.5,556 L473.5,629 Q481,633 488,629 L488,556 Q481,552 473.5,556 Z" fill="#fff" stroke="#2e2e2e" stroke-width="1.1" stroke-linejoin="round" stroke-linecap="round" /><path d="M476.7,556 L476.7,538 Q480.5,534 484.5,538 L484.5,556 Z" fill="#cfcfcf" stroke="#2e2e2e" stroke-width="1" stroke-linejoin="round" stroke-linecap="round" /><path d="M477,541 L484,541 M477,544.5 L484,544.5 M477,548 L484,548 M477,551.5 L484,551.5" fill="none" stroke="#666" stroke-width="0.9" stroke-linejoin="round" stroke-linecap="round" /></g>
<g id="radj"><path d="M689.7,874 L689.7,880 A16.8,9 0 0 0 723.3,880 L723.3,874 Z" fill="#fff" stroke="#2e2e2e" stroke-width="1.3" stroke-linejoin="round" stroke-linecap="round" /><path d="M689.7,877 A16.8,8.5 0 0 0 723.3,877" fill="none" stroke="#2e2e2e" stroke-width="0.9" stroke-linejoin="round" stroke-linecap="round" /><ellipse cx="706.5" cy="872" rx="17.5" ry="8.5" fill="#fff" stroke="#2e2e2e" stroke-width="1.2" /><ellipse cx="706.5" cy="867.5" rx="26" ry="11.5" fill="#fff" stroke="#2e2e2e" stroke-width="1.3" /><ellipse cx="706.5" cy="865" rx="26" ry="11.5" fill="#fff" stroke="#2e2e2e" stroke-width="1.2" /><path d="M687,858 L687,866 A19.5,8 0 0 0 726,866 L726,858 Z" fill="#fff" stroke="#2e2e2e" stroke-width="1.3" stroke-linejoin="round" stroke-linecap="round" /><path d="M687.0,860 A19.5,8 0 0 0 726.0,860" fill="none" stroke="#2e2e2e" stroke-width="1.6" stroke-linejoin="round" stroke-linecap="round" /><path d="M687.0,863 A19.5,8 0 0 0 726.0,863" fill="none" stroke="#2e2e2e" stroke-width="2.2" stroke-linejoin="round" stroke-linecap="round" /><path d="M687.0,866 A19.5,8 0 0 0 726.0,866" fill="none" stroke="#2e2e2e" stroke-width="1.6" stroke-linejoin="round" stroke-linecap="round" /><path d="M690,867 L690,873 M723,867 L723,873 M698,871 L698,875 M715,871 L715,875" fill="none" stroke="#2e2e2e" stroke-width="1.3" stroke-linejoin="round" stroke-linecap="round" /><path d="M684,868 Q706,882 729,868" fill="none" stroke="#2e2e2e" stroke-width="1.1" stroke-linejoin="round" stroke-linecap="round" /><ellipse cx="707" cy="844" rx="26.7" ry="12.5" fill="#fff" stroke="#2e2e2e" stroke-width="1.2" /><ellipse cx="707" cy="841.6" rx="26.7" ry="13.2" fill="#fff" stroke="#2e2e2e" stroke-width="1.2" /><path d="M694.5,836 L694.5,842 A12.9,6 0 0 0 720.3,842 L720.3,836 Z" fill="#fff" stroke="#2e2e2e" stroke-width="1.4" stroke-linejoin="round" stroke-linecap="round" /><ellipse cx="707.4" cy="835.8" rx="12.9" ry="5.8" fill="#fff" stroke="#2e2e2e" stroke-width="1.4" /><ellipse cx="707.4" cy="836.3" rx="10.5" ry="4.3" fill="#fff" stroke="#2e2e2e" stroke-width="1" /><path d="M698.4,837 A9,3 0 0 0 716.4,837" fill="none" stroke="#555" stroke-width="0.9" stroke-linejoin="round" stroke-linecap="round" /><rect x="671.5" y="820.5" width="68" height="77" fill="none" stroke="#3a3a3a" stroke-width="1.6" stroke-dasharray="4.6 2.8"/></g>
<g id="rspr"><path d="M679.9,1045.7 L680.1,1044.5 L680.6,1043.4 L681.3,1042.2 L682.3,1041.1 L683.5,1040.1 L684.9,1039.1 L686.6,1038.2 L688.4,1037.3 L690.5,1036.6 L692.7,1036.0 L695.0,1035.4 L697.5,1035.0 L700.0,1034.7 L702.7,1034.5 L705.3,1034.4 L708.0,1034.5 L710.7,1034.7 L713.4,1035.0 L716.0,1035.4 L718.5,1035.9 L720.9,1036.6 L723.2,1037.4 L725.3,1038.2 L727.3,1039.2 L729.1,1040.3 L730.6,1041.4 L732.0,1042.6 L733.1,1043.9 L733.9,1045.2 L734.5,1046.5 L734.8,1047.9 L734.9,1049.2" fill="none" stroke="#1e1e1e" stroke-width="8.40" stroke-linecap="round"/>
<path d="M679.9,1045.7 L680.1,1044.5 L680.6,1043.4 L681.3,1042.2 L682.3,1041.1 L683.5,1040.1 L684.9,1039.1 L686.6,1038.2 L688.4,1037.3 L690.5,1036.6 L692.7,1036.0 L695.0,1035.4 L697.5,1035.0 L700.0,1034.7 L702.7,1034.5 L705.3,1034.4 L708.0,1034.5 L710.7,1034.7 L713.4,1035.0 L716.0,1035.4 L718.5,1035.9 L720.9,1036.6 L723.2,1037.4 L725.3,1038.2 L727.3,1039.2 L729.1,1040.3 L730.6,1041.4 L732.0,1042.6 L733.1,1043.9 L733.9,1045.2 L734.5,1046.5 L734.8,1047.9 L734.9,1049.2" fill="none" stroke="#fff" stroke-width="6.00" stroke-linecap="round"/>
<path d="M679.9,1025.9 L680.1,1024.9 L680.5,1024.0 L681.3,1023.1 L682.2,1022.2 L683.4,1021.4 L684.9,1020.7 L686.5,1020.0 L688.4,1019.4 L690.4,1018.9 L692.6,1018.5 L695.0,1018.2 L697.4,1018.0 L700.0,1017.9 L702.6,1017.9 L705.3,1018.1 L708.0,1018.4 L710.7,1018.8 L713.4,1019.3 L716.0,1020.0 L718.6,1020.8 L721.0,1021.7 L723.3,1022.7 L725.4,1023.8 L727.4,1025.0 L729.2,1026.3 L730.7,1027.7 L732.1,1029.1 L733.2,1030.6 L734.1,1032.1 L734.7,1033.7 L735.0,1035.3 L735.1,1036.9" fill="none" stroke="#1e1e1e" stroke-width="8.40" stroke-linecap="round"/>
<path d="M679.9,1025.9 L680.1,1024.9 L680.5,1024.0 L681.3,1023.1 L682.2,1022.2 L683.4,1021.4 L684.9,1020.7 L686.5,1020.0 L688.4,1019.4 L690.4,1018.9 L692.6,1018.5 L695.0,1018.2 L697.4,1018.0 L700.0,1017.9 L702.6,1017.9 L705.3,1018.1 L708.0,1018.4 L710.7,1018.8 L713.4,1019.3 L716.0,1020.0 L718.6,1020.8 L721.0,1021.7 L723.3,1022.7 L725.4,1023.8 L727.4,1025.0 L729.2,1026.3 L730.7,1027.7 L732.1,1029.1 L733.2,1030.6 L734.1,1032.1 L734.7,1033.7 L735.0,1035.3 L735.1,1036.9" fill="none" stroke="#fff" stroke-width="6.00" stroke-linecap="round"/>
<path d="M679.9,1005.8 L680.1,1004.8 L680.5,1003.9 L681.3,1003.0 L682.2,1002.1 L683.4,1001.3 L684.9,1000.5 L686.5,999.8 L688.4,999.2 L690.4,998.7 L692.6,998.2 L695.0,997.9 L697.4,997.7 L700.0,997.6 L702.6,997.6 L705.3,997.8 L708.0,998.1 L710.7,998.5 L713.4,999.0 L716.0,999.6 L718.6,1000.4 L721.0,1001.3 L723.3,1002.3 L725.4,1003.4 L727.4,1004.6 L729.2,1005.8 L730.7,1007.2 L732.1,1008.6 L733.2,1010.1 L734.1,1011.6 L734.7,1013.2 L735.0,1014.7 L735.1,1016.3" fill="none" stroke="#1e1e1e" stroke-width="8.40" stroke-linecap="round"/>
<path d="M679.9,1005.8 L680.1,1004.8 L680.5,1003.9 L681.3,1003.0 L682.2,1002.1 L683.4,1001.3 L684.9,1000.5 L686.5,999.8 L688.4,999.2 L690.4,998.7 L692.6,998.2 L695.0,997.9 L697.4,997.7 L700.0,997.6 L702.6,997.6 L705.3,997.8 L708.0,998.1 L710.7,998.5 L713.4,999.0 L716.0,999.6 L718.6,1000.4 L721.0,1001.3 L723.3,1002.3 L725.4,1003.4 L727.4,1004.6 L729.2,1005.8 L730.7,1007.2 L732.1,1008.6 L733.2,1010.1 L734.1,1011.6 L734.7,1013.2 L735.0,1014.7 L735.1,1016.3" fill="none" stroke="#fff" stroke-width="6.00" stroke-linecap="round"/>
<path d="M679.9,986.7 L680.1,985.8 L680.5,984.8 L681.3,983.9 L682.2,983.0 L683.4,982.1 L684.9,981.3 L686.5,980.6 L688.4,980.0 L690.4,979.4 L692.6,979.0 L695.0,978.7 L697.4,978.4 L700.0,978.3 L702.6,978.3 L705.3,978.5 L708.0,978.7 L710.7,979.1 L713.4,979.6 L716.0,980.3 L718.6,981.0 L721.0,981.9 L723.3,982.9 L725.4,983.9 L727.4,985.1 L729.2,986.4 L730.7,987.7 L732.1,989.1 L733.2,990.6 L734.1,992.1 L734.7,993.6 L735.0,995.2 L735.1,996.7" fill="none" stroke="#1e1e1e" stroke-width="8.40" stroke-linecap="round"/>
<path d="M679.9,986.7 L680.1,985.8 L680.5,984.8 L681.3,983.9 L682.2,983.0 L683.4,982.1 L684.9,981.3 L686.5,980.6 L688.4,980.0 L690.4,979.4 L692.6,979.0 L695.0,978.7 L697.4,978.4 L700.0,978.3 L702.6,978.3 L705.3,978.5 L708.0,978.7 L710.7,979.1 L713.4,979.6 L716.0,980.3 L718.6,981.0 L721.0,981.9 L723.3,982.9 L725.4,983.9 L727.4,985.1 L729.2,986.4 L730.7,987.7 L732.1,989.1 L733.2,990.6 L734.1,992.1 L734.7,993.6 L735.0,995.2 L735.1,996.7" fill="none" stroke="#fff" stroke-width="6.00" stroke-linecap="round"/>
<path d="M679.9,972.3 L680.1,971.3 L680.5,970.2 L681.3,969.2 L682.2,968.3 L683.4,967.3 L684.9,966.5 L686.5,965.7 L688.4,965.0 L690.4,964.4 L692.6,963.8 L695.0,963.4 L697.4,963.1 L700.0,962.9 L702.6,962.9 L705.3,962.9 L708.0,963.1 L710.7,963.4 L713.4,963.8 L716.0,964.4 L718.6,965.1 L721.0,965.8 L723.3,966.7 L725.4,967.7 L727.4,968.8 L729.2,970.0 L730.7,971.3 L732.1,972.6 L733.2,974.0 L734.1,975.4 L734.7,976.9 L735.0,978.4 L735.1,979.8" fill="none" stroke="#1e1e1e" stroke-width="8.40" stroke-linecap="round"/>
<path d="M679.9,972.3 L680.1,971.3 L680.5,970.2 L681.3,969.2 L682.2,968.3 L683.4,967.3 L684.9,966.5 L686.5,965.7 L688.4,965.0 L690.4,964.4 L692.6,963.8 L695.0,963.4 L697.4,963.1 L700.0,962.9 L702.6,962.9 L705.3,962.9 L708.0,963.1 L710.7,963.4 L713.4,963.8 L716.0,964.4 L718.6,965.1 L721.0,965.8 L723.3,966.7 L725.4,967.7 L727.4,968.8 L729.2,970.0 L730.7,971.3 L732.1,972.6 L733.2,974.0 L734.1,975.4 L734.7,976.9 L735.0,978.4 L735.1,979.8" fill="none" stroke="#fff" stroke-width="6.00" stroke-linecap="round"/>
<path d="M679.9,960.2 L680.1,959.1 L680.5,958.0 L681.3,957.0 L682.2,956.0 L683.4,955.0 L684.9,954.1 L686.5,953.3 L688.4,952.6 L690.4,951.9 L692.6,951.4 L695.0,950.9 L697.4,950.6 L700.0,950.4 L702.6,950.3 L705.3,950.3 L708.0,950.4 L710.7,950.7 L713.4,951.1 L716.0,951.6 L718.6,952.3 L721.0,953.0 L723.3,953.9 L725.4,954.9 L727.4,955.9 L729.2,957.1 L730.7,958.3 L732.1,959.6 L733.2,960.9 L734.1,962.3 L734.7,963.8 L735.0,965.2 L735.1,966.7" fill="none" stroke="#1e1e1e" stroke-width="8.40" stroke-linecap="round"/>
<path d="M679.9,960.2 L680.1,959.1 L680.5,958.0 L681.3,957.0 L682.2,956.0 L683.4,955.0 L684.9,954.1 L686.5,953.3 L688.4,952.6 L690.4,951.9 L692.6,951.4 L695.0,950.9 L697.4,950.6 L700.0,950.4 L702.6,950.3 L705.3,950.3 L708.0,950.4 L710.7,950.7 L713.4,951.1 L716.0,951.6 L718.6,952.3 L721.0,953.0 L723.3,953.9 L725.4,954.9 L727.4,955.9 L729.2,957.1 L730.7,958.3 L732.1,959.6 L733.2,960.9 L734.1,962.3 L734.7,963.8 L735.0,965.2 L735.1,966.7" fill="none" stroke="#fff" stroke-width="6.00" stroke-linecap="round"/>
<path d="M679.9,948.2 L680.1,947.1 L680.5,946.0 L681.3,945.0 L682.2,944.0 L683.4,943.0 L684.9,942.1 L686.5,941.3 L688.4,940.6 L690.4,939.9 L692.6,939.4 L695.0,938.9 L697.4,938.6 L700.0,938.4 L702.6,938.3 L705.3,938.3 L708.0,938.4 L710.7,938.7 L713.4,939.1 L716.0,939.6 L718.6,940.3 L721.0,941.0 L723.3,941.9 L725.4,942.9 L727.4,943.9 L729.2,945.1 L730.7,946.3 L732.1,947.6 L733.2,948.9 L734.1,950.3 L734.7,951.8 L735.0,953.2 L735.1,954.7" fill="none" stroke="#1e1e1e" stroke-width="8.40" stroke-linecap="round"/>
<path d="M679.9,948.2 L680.1,947.1 L680.5,946.0 L681.3,945.0 L682.2,944.0 L683.4,943.0 L684.9,942.1 L686.5,941.3 L688.4,940.6 L690.4,939.9 L692.6,939.4 L695.0,938.9 L697.4,938.6 L700.0,938.4 L702.6,938.3 L705.3,938.3 L708.0,938.4 L710.7,938.7 L713.4,939.1 L716.0,939.6 L718.6,940.3 L721.0,941.0 L723.3,941.9 L725.4,942.9 L727.4,943.9 L729.2,945.1 L730.7,946.3 L732.1,947.6 L733.2,948.9 L734.1,950.3 L734.7,951.8 L735.0,953.2 L735.1,954.7" fill="none" stroke="#fff" stroke-width="6.00" stroke-linecap="round"/>
<path d="M679.9,936.2 L680.1,935.1 L680.5,934.0 L681.3,933.0 L682.2,932.0 L683.4,931.0 L684.9,930.1 L686.5,929.3 L688.4,928.6 L690.4,927.9 L692.6,927.4 L695.0,926.9 L697.4,926.6 L700.0,926.4 L702.6,926.3 L705.3,926.3 L708.0,926.4 L710.7,926.7 L713.4,927.1 L716.0,927.6 L718.6,928.3 L721.0,929.0 L723.3,929.9 L725.4,930.9 L727.4,931.9 L729.2,933.1 L730.7,934.3 L732.1,935.6 L733.2,936.9 L734.1,938.3 L734.7,939.8 L735.0,941.2 L735.1,942.7" fill="none" stroke="#1e1e1e" stroke-width="8.40" stroke-linecap="round"/>
<path d="M679.9,936.2 L680.1,935.1 L680.5,934.0 L681.3,933.0 L682.2,932.0 L683.4,931.0 L684.9,930.1 L686.5,929.3 L688.4,928.6 L690.4,927.9 L692.6,927.4 L695.0,926.9 L697.4,926.6 L700.0,926.4 L702.6,926.3 L705.3,926.3 L708.0,926.4 L710.7,926.7 L713.4,927.1 L716.0,927.6 L718.6,928.3 L721.0,929.0 L723.3,929.9 L725.4,930.9 L727.4,931.9 L729.2,933.1 L730.7,934.3 L732.1,935.6 L733.2,936.9 L734.1,938.3 L734.7,939.8 L735.0,941.2 L735.1,942.7" fill="none" stroke="#fff" stroke-width="6.00" stroke-linecap="round"/>
<path d="M679.9,924.2 L680.1,923.1 L680.5,922.0 L681.3,921.0 L682.2,920.0 L683.4,919.0 L684.9,918.1 L686.5,917.3 L688.4,916.6 L690.4,915.9 L692.6,915.4 L695.0,914.9 L697.4,914.6 L700.0,914.4 L702.6,914.3 L705.3,914.3 L708.0,914.4 L710.7,914.7 L713.4,915.1 L716.0,915.6 L718.6,916.3 L721.0,917.0 L723.3,917.9 L725.4,918.9 L727.4,919.9 L729.2,921.1 L730.7,922.3 L732.1,923.6 L733.2,924.9 L734.1,926.3 L734.7,927.8 L735.0,929.2 L735.1,930.7" fill="none" stroke="#1e1e1e" stroke-width="8.40" stroke-linecap="round"/>
<path d="M679.9,924.2 L680.1,923.1 L680.5,922.0 L681.3,921.0 L682.2,920.0 L683.4,919.0 L684.9,918.1 L686.5,917.3 L688.4,916.6 L690.4,915.9 L692.6,915.4 L695.0,914.9 L697.4,914.6 L700.0,914.4 L702.6,914.3 L705.3,914.3 L708.0,914.4 L710.7,914.7 L713.4,915.1 L716.0,915.6 L718.6,916.3 L721.0,917.0 L723.3,917.9 L725.4,918.9 L727.4,919.9 L729.2,921.1 L730.7,922.3 L732.1,923.6 L733.2,924.9 L734.1,926.3 L734.7,927.8 L735.0,929.2 L735.1,930.7" fill="none" stroke="#fff" stroke-width="6.00" stroke-linecap="round"/>
<path d="M682.8,920.5 L682.9,919.3 L683.2,918.0 L683.8,916.9 L684.7,915.7 L685.7,914.6 L687.0,913.6 L688.4,912.6 L690.1,911.7 L691.9,910.9 L693.9,910.3 L696.0,909.7 L698.3,909.2 L700.6,908.8 L703.0,908.6 L705.5,908.5 L708.0,908.5 L710.5,908.6 L713.0,908.9 L715.4,909.3 L717.8,909.8 L720.1,910.4 L722.3,911.1 L724.3,911.9 L726.2,912.8 L727.9,913.9 L729.4,914.9 L730.7,916.1 L731.8,917.3 L732.7,918.6 L733.3,919.9 L733.7,921.2 L733.8,922.5" fill="none" stroke="#1e1e1e" stroke-width="8.40" stroke-linecap="round"/>
<path d="M682.8,920.5 L682.9,919.3 L683.2,918.0 L683.8,916.9 L684.7,915.7 L685.7,914.6 L687.0,913.6 L688.4,912.6 L690.1,911.7 L691.9,910.9 L693.9,910.3 L696.0,909.7 L698.3,909.2 L700.6,908.8 L703.0,908.6 L705.5,908.5 L708.0,908.5 L710.5,908.6 L713.0,908.9 L715.4,909.3 L717.8,909.8 L720.1,910.4 L722.3,911.1 L724.3,911.9 L726.2,912.8 L727.9,913.9 L729.4,914.9 L730.7,916.1 L731.8,917.3 L732.7,918.6 L733.3,919.9 L733.7,921.2 L733.8,922.5" fill="none" stroke="#fff" stroke-width="6.00" stroke-linecap="round"/>
<path d="M734.9,1049.2 L734.7,1050.6 L734.3,1051.9 L733.6,1053.3 L732.6,1054.6 L731.4,1055.8 L730.0,1057.0 L728.3,1058.1 L726.5,1059.1 L724.5,1060.0 L722.3,1060.9 L719.9,1061.6 L717.5,1062.2 L714.9,1062.7 L712.3,1063.1 L709.6,1063.3 L707.0,1063.5 L704.3,1063.5 L701.6,1063.4 L699.1,1063.1 L696.5,1062.8 L694.1,1062.3 L691.9,1061.7 L689.8,1061.0 L687.8,1060.2 L686.1,1059.4 L684.5,1058.4 L683.2,1057.4" fill="none" stroke="#1e1e1e" stroke-width="8.40" stroke-linecap="round"/>
<path d="M734.9,1049.2 L734.7,1050.6 L734.3,1051.9 L733.6,1053.3 L732.6,1054.6 L731.4,1055.8 L730.0,1057.0 L728.3,1058.1 L726.5,1059.1 L724.5,1060.0 L722.3,1060.9 L719.9,1061.6 L717.5,1062.2 L714.9,1062.7 L712.3,1063.1 L709.6,1063.3 L707.0,1063.5 L704.3,1063.5 L701.6,1063.4 L699.1,1063.1 L696.5,1062.8 L694.1,1062.3 L691.9,1061.7 L689.8,1061.0 L687.8,1060.2 L686.1,1059.4 L684.5,1058.4 L683.2,1057.4" fill="none" stroke="#fff" stroke-width="6.00" stroke-linecap="round"/>
<path d="M735.1,1036.9 L734.9,1038.5 L734.5,1040.1 L733.7,1041.6 L732.8,1043.2 L731.6,1044.6 L730.1,1046.0 L728.5,1047.4 L726.6,1048.6 L724.6,1049.8 L722.4,1050.9 L720.0,1051.8 L717.6,1052.7 L715.0,1053.4 L712.4,1054.0 L709.7,1054.5 L707.0,1054.9 L704.3,1055.1 L701.6,1055.2 L699.0,1055.2 L696.4,1055.1 L694.0,1054.9 L691.7,1054.5 L689.6,1054.1 L687.6,1053.5 L685.8,1052.9 L684.3,1052.2 L682.9,1051.4 L681.8,1050.3 L680.9,1049.2 L680.3,1048.1 L680.0,1046.9 L679.9,1045.7" fill="none" stroke="#1e1e1e" stroke-width="8.40" stroke-linecap="round"/>
<path d="M735.1,1036.9 L734.9,1038.5 L734.5,1040.1 L733.7,1041.6 L732.8,1043.2 L731.6,1044.6 L730.1,1046.0 L728.5,1047.4 L726.6,1048.6 L724.6,1049.8 L722.4,1050.9 L720.0,1051.8 L717.6,1052.7 L715.0,1053.4 L712.4,1054.0 L709.7,1054.5 L707.0,1054.9 L704.3,1055.1 L701.6,1055.2 L699.0,1055.2 L696.4,1055.1 L694.0,1054.9 L691.7,1054.5 L689.6,1054.1 L687.6,1053.5 L685.8,1052.9 L684.3,1052.2 L682.9,1051.4 L681.8,1050.3 L680.9,1049.2 L680.3,1048.1 L680.0,1046.9 L679.9,1045.7" fill="none" stroke="#fff" stroke-width="6.00" stroke-linecap="round"/>
<path d="M735.1,1016.3 L734.9,1017.9 L734.5,1019.5 L733.7,1021.0 L732.8,1022.5 L731.6,1024.0 L730.1,1025.4 L728.5,1026.7 L726.6,1027.9 L724.6,1029.1 L722.4,1030.1 L720.0,1031.1 L717.6,1031.9 L715.0,1032.6 L712.4,1033.2 L709.7,1033.7 L707.0,1034.1 L704.3,1034.3 L701.6,1034.4 L699.0,1034.4 L696.4,1034.2 L694.0,1034.0 L691.7,1033.6 L689.6,1033.1 L687.6,1032.6 L685.8,1031.9 L684.3,1031.2 L682.9,1030.4 L681.8,1029.6 L680.9,1028.7 L680.3,1027.8 L680.0,1026.8 L679.9,1025.9" fill="none" stroke="#1e1e1e" stroke-width="8.40" stroke-linecap="round"/>
<path d="M735.1,1016.3 L734.9,1017.9 L734.5,1019.5 L733.7,1021.0 L732.8,1022.5 L731.6,1024.0 L730.1,1025.4 L728.5,1026.7 L726.6,1027.9 L724.6,1029.1 L722.4,1030.1 L720.0,1031.1 L717.6,1031.9 L715.0,1032.6 L712.4,1033.2 L709.7,1033.7 L707.0,1034.1 L704.3,1034.3 L701.6,1034.4 L699.0,1034.4 L696.4,1034.2 L694.0,1034.0 L691.7,1033.6 L689.6,1033.1 L687.6,1032.6 L685.8,1031.9 L684.3,1031.2 L682.9,1030.4 L681.8,1029.6 L680.9,1028.7 L680.3,1027.8 L680.0,1026.8 L679.9,1025.9" fill="none" stroke="#fff" stroke-width="6.00" stroke-linecap="round"/>
<path d="M735.1,996.7 L734.9,998.3 L734.5,999.9 L733.7,1001.4 L732.8,1002.9 L731.6,1004.3 L730.1,1005.7 L728.5,1007.0 L726.6,1008.2 L724.6,1009.4 L722.4,1010.4 L720.0,1011.3 L717.6,1012.2 L715.0,1012.9 L712.4,1013.4 L709.7,1013.9 L707.0,1014.2 L704.3,1014.4 L701.6,1014.5 L699.0,1014.5 L696.4,1014.3 L694.0,1014.1 L691.7,1013.7 L689.6,1013.2 L687.6,1012.6 L685.8,1012.0 L684.3,1011.2 L682.9,1010.4 L681.8,1009.6 L680.9,1008.7 L680.3,1007.7 L680.0,1006.8 L679.9,1005.8" fill="none" stroke="#1e1e1e" stroke-width="8.40" stroke-linecap="round"/>
<path d="M735.1,996.7 L734.9,998.3 L734.5,999.9 L733.7,1001.4 L732.8,1002.9 L731.6,1004.3 L730.1,1005.7 L728.5,1007.0 L726.6,1008.2 L724.6,1009.4 L722.4,1010.4 L720.0,1011.3 L717.6,1012.2 L715.0,1012.9 L712.4,1013.4 L709.7,1013.9 L707.0,1014.2 L704.3,1014.4 L701.6,1014.5 L699.0,1014.5 L696.4,1014.3 L694.0,1014.1 L691.7,1013.7 L689.6,1013.2 L687.6,1012.6 L685.8,1012.0 L684.3,1011.2 L682.9,1010.4 L681.8,1009.6 L680.9,1008.7 L680.3,1007.7 L680.0,1006.8 L679.9,1005.8" fill="none" stroke="#fff" stroke-width="6.00" stroke-linecap="round"/>
<path d="M735.1,979.8 L734.9,981.3 L734.5,982.8 L733.7,984.3 L732.8,985.7 L731.6,987.0 L730.1,988.3 L728.5,989.6 L726.6,990.7 L724.6,991.8 L722.4,992.7 L720.0,993.6 L717.6,994.3 L715.0,994.9 L712.4,995.5 L709.7,995.8 L707.0,996.1 L704.3,996.2 L701.6,996.2 L699.0,996.1 L696.4,995.9 L694.0,995.5 L691.7,995.1 L689.6,994.5 L687.6,993.9 L685.8,993.1 L684.3,992.3 L682.9,991.4 L681.8,990.5 L680.9,989.6 L680.3,988.7 L680.0,987.7 L679.9,986.7" fill="none" stroke="#1e1e1e" stroke-width="8.40" stroke-linecap="round"/>
<path d="M735.1,979.8 L734.9,981.3 L734.5,982.8 L733.7,984.3 L732.8,985.7 L731.6,987.0 L730.1,988.3 L728.5,989.6 L726.6,990.7 L724.6,991.8 L722.4,992.7 L720.0,993.6 L717.6,994.3 L715.0,994.9 L712.4,995.5 L709.7,995.8 L707.0,996.1 L704.3,996.2 L701.6,996.2 L699.0,996.1 L696.4,995.9 L694.0,995.5 L691.7,995.1 L689.6,994.5 L687.6,993.9 L685.8,993.1 L684.3,992.3 L682.9,991.4 L681.8,990.5 L680.9,989.6 L680.3,988.7 L680.0,987.7 L679.9,986.7" fill="none" stroke="#fff" stroke-width="6.00" stroke-linecap="round"/>
<path d="M735.1,966.7 L734.9,968.2 L734.5,969.6 L733.7,971.0 L732.8,972.4 L731.6,973.7 L730.1,975.0 L728.5,976.2 L726.6,977.3 L724.6,978.3 L722.4,979.3 L720.0,980.1 L717.6,980.8 L715.0,981.4 L712.4,981.9 L709.7,982.2 L707.0,982.4 L704.3,982.5 L701.6,982.5 L699.0,982.4 L696.4,982.1 L694.0,981.7 L691.7,981.2 L689.6,980.6 L687.6,979.9 L685.8,979.2 L684.3,978.3 L682.9,977.4 L681.8,976.5 L680.9,975.5 L680.3,974.4 L680.0,973.4 L679.9,972.3" fill="none" stroke="#1e1e1e" stroke-width="8.40" stroke-linecap="round"/>
<path d="M735.1,966.7 L734.9,968.2 L734.5,969.6 L733.7,971.0 L732.8,972.4 L731.6,973.7 L730.1,975.0 L728.5,976.2 L726.6,977.3 L724.6,978.3 L722.4,979.3 L720.0,980.1 L717.6,980.8 L715.0,981.4 L712.4,981.9 L709.7,982.2 L707.0,982.4 L704.3,982.5 L701.6,982.5 L699.0,982.4 L696.4,982.1 L694.0,981.7 L691.7,981.2 L689.6,980.6 L687.6,979.9 L685.8,979.2 L684.3,978.3 L682.9,977.4 L681.8,976.5 L680.9,975.5 L680.3,974.4 L680.0,973.4 L679.9,972.3" fill="none" stroke="#fff" stroke-width="6.00" stroke-linecap="round"/>
<path d="M735.1,954.7 L734.9,956.2 L734.5,957.6 L733.7,959.0 L732.8,960.4 L731.6,961.7 L730.1,963.0 L728.5,964.2 L726.6,965.3 L724.6,966.3 L722.4,967.3 L720.0,968.1 L717.6,968.8 L715.0,969.4 L712.4,969.9 L709.7,970.2 L707.0,970.4 L704.3,970.5 L701.6,970.5 L699.0,970.4 L696.4,970.1 L694.0,969.7 L691.7,969.2 L689.6,968.6 L687.6,967.9 L685.8,967.2 L684.3,966.3 L682.9,965.4 L681.8,964.4 L680.9,963.4 L680.3,962.3 L680.0,961.3 L679.9,960.2" fill="none" stroke="#1e1e1e" stroke-width="8.40" stroke-linecap="round"/>
<path d="M735.1,954.7 L734.9,956.2 L734.5,957.6 L733.7,959.0 L732.8,960.4 L731.6,961.7 L730.1,963.0 L728.5,964.2 L726.6,965.3 L724.6,966.3 L722.4,967.3 L720.0,968.1 L717.6,968.8 L715.0,969.4 L712.4,969.9 L709.7,970.2 L707.0,970.4 L704.3,970.5 L701.6,970.5 L699.0,970.4 L696.4,970.1 L694.0,969.7 L691.7,969.2 L689.6,968.6 L687.6,967.9 L685.8,967.2 L684.3,966.3 L682.9,965.4 L681.8,964.4 L680.9,963.4 L680.3,962.3 L680.0,961.3 L679.9,960.2" fill="none" stroke="#fff" stroke-width="6.00" stroke-linecap="round"/>
<path d="M735.1,942.7 L734.9,944.2 L734.5,945.6 L733.7,947.0 L732.8,948.4 L731.6,949.7 L730.1,951.0 L728.5,952.2 L726.6,953.3 L724.6,954.3 L722.4,955.3 L720.0,956.1 L717.6,956.8 L715.0,957.4 L712.4,957.9 L709.7,958.2 L707.0,958.4 L704.3,958.5 L701.6,958.5 L699.0,958.4 L696.4,958.1 L694.0,957.7 L691.7,957.2 L689.6,956.6 L687.6,955.9 L685.8,955.2 L684.3,954.3 L682.9,953.4 L681.8,952.4 L680.9,951.4 L680.3,950.3 L680.0,949.3 L679.9,948.2" fill="none" stroke="#1e1e1e" stroke-width="8.40" stroke-linecap="round"/>
<path d="M735.1,942.7 L734.9,944.2 L734.5,945.6 L733.7,947.0 L732.8,948.4 L731.6,949.7 L730.1,951.0 L728.5,952.2 L726.6,953.3 L724.6,954.3 L722.4,955.3 L720.0,956.1 L717.6,956.8 L715.0,957.4 L712.4,957.9 L709.7,958.2 L707.0,958.4 L704.3,958.5 L701.6,958.5 L699.0,958.4 L696.4,958.1 L694.0,957.7 L691.7,957.2 L689.6,956.6 L687.6,955.9 L685.8,955.2 L684.3,954.3 L682.9,953.4 L681.8,952.4 L680.9,951.4 L680.3,950.3 L680.0,949.3 L679.9,948.2" fill="none" stroke="#fff" stroke-width="6.00" stroke-linecap="round"/>
<path d="M735.1,930.7 L734.9,932.2 L734.5,933.6 L733.7,935.0 L732.8,936.4 L731.6,937.7 L730.1,939.0 L728.5,940.2 L726.6,941.3 L724.6,942.3 L722.4,943.3 L720.0,944.1 L717.6,944.8 L715.0,945.4 L712.4,945.9 L709.7,946.2 L707.0,946.4 L704.3,946.5 L701.6,946.5 L699.0,946.4 L696.4,946.1 L694.0,945.7 L691.7,945.2 L689.6,944.6 L687.6,943.9 L685.8,943.2 L684.3,942.3 L682.9,941.4 L681.8,940.4 L680.9,939.4 L680.3,938.3 L680.0,937.3 L679.9,936.2" fill="none" stroke="#1e1e1e" stroke-width="8.40" stroke-linecap="round"/>
<path d="M735.1,930.7 L734.9,932.2 L734.5,933.6 L733.7,935.0 L732.8,936.4 L731.6,937.7 L730.1,939.0 L728.5,940.2 L726.6,941.3 L724.6,942.3 L722.4,943.3 L720.0,944.1 L717.6,944.8 L715.0,945.4 L712.4,945.9 L709.7,946.2 L707.0,946.4 L704.3,946.5 L701.6,946.5 L699.0,946.4 L696.4,946.1 L694.0,945.7 L691.7,945.2 L689.6,944.6 L687.6,943.9 L685.8,943.2 L684.3,942.3 L682.9,941.4 L681.8,940.4 L680.9,939.4 L680.3,938.3 L680.0,937.3 L679.9,936.2" fill="none" stroke="#fff" stroke-width="6.00" stroke-linecap="round"/>
<path d="M733.8,922.5 L733.7,923.8 L733.3,925.1 L732.6,926.4 L731.8,927.6 L730.7,928.8 L729.3,929.9 L727.8,931.0 L726.0,932.0 L724.0,932.9 L721.9,933.7 L719.7,934.3 L717.3,934.9 L714.8,935.4 L712.2,935.7 L709.6,935.9 L707.0,936.0 L704.3,935.9 L701.7,935.8 L699.1,935.5 L696.6,935.1 L694.2,934.6 L691.9,933.9 L689.7,933.2 L687.7,932.4 L685.9,931.5 L684.3,930.5 L682.9,929.4 L681.8,928.4 L680.9,927.4 L680.3,926.3 L680.0,925.3 L679.9,924.2" fill="none" stroke="#1e1e1e" stroke-width="8.40" stroke-linecap="round"/>
<path d="M733.8,922.5 L733.7,923.8 L733.3,925.1 L732.6,926.4 L731.8,927.6 L730.7,928.8 L729.3,929.9 L727.8,931.0 L726.0,932.0 L724.0,932.9 L721.9,933.7 L719.7,934.3 L717.3,934.9 L714.8,935.4 L712.2,935.7 L709.6,935.9 L707.0,936.0 L704.3,935.9 L701.7,935.8 L699.1,935.5 L696.6,935.1 L694.2,934.6 L691.9,933.9 L689.7,933.2 L687.7,932.4 L685.9,931.5 L684.3,930.5 L682.9,929.4 L681.8,928.4 L680.9,927.4 L680.3,926.3 L680.0,925.3 L679.9,924.2" fill="none" stroke="#fff" stroke-width="6.00" stroke-linecap="round"/>
<path d="M685.7,926.4 L684.6,925.3 L683.8,924.1 L683.2,922.9 L682.9,921.7 L682.8,920.5" fill="none" stroke="#1e1e1e" stroke-width="8.40" stroke-linecap="round"/>
<path d="M685.7,926.4 L684.6,925.3 L683.8,924.1 L683.2,922.9 L682.9,921.7 L682.8,920.5" fill="none" stroke="#fff" stroke-width="6.00" stroke-linecap="round"/></g>
</g>
<g class="ld">
<path d="M229 138H321"/>
<path d="M229 201.8H302"/>
<path d="M229 309.8H303"/>
<path d="M229 423H297"/>
<path d="M229 537.9H308"/>
<path d="M228 616.4H304"/>
<path d="M229 672L292 719"/>
<path d="M229 711.6L295 728"/>
<path d="M229 742L304 739"/>
<path d="M229 797L300 759.4"/>
<path d="M229 843L332 750"/>
<path d="M229 939.5H315"/>
<path d="M491 151H571"/>
<path d="M486 206H571"/>
<path d="M520 268.5H571"/>
<path d="M495 380.5H571"/>
<path d="M495 483H571"/>
<path d="M479 682.5H571"/>
<path d="M641 842.4L684.7 857"/>
<path d="M641 892.2L688.2 876.5"/>
<path d="M641 919.4L687.4 898.4"/>
<path d="M642 981.8H677"/>
</g>
</svg>
</body></html>
